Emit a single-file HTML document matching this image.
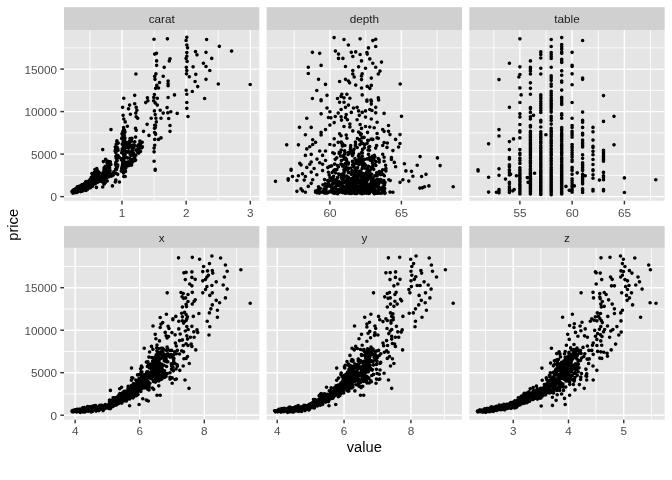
<!DOCTYPE html>
<html><head><meta charset="utf-8"><title>plot</title>
<style>html,body{margin:0;padding:0;background:#fff;overflow:hidden}svg text{font-family:"Liberation Sans",sans-serif}svg{will-change:transform}</style>
</head><body>
<svg width="672" height="480" viewBox="0 0 672 480" style="display:block">
<rect width="672" height="480" fill="#fff"/>
<defs>
<clipPath id="c00"><rect x="64.00" y="30.0" width="195.33" height="170.75"/></clipPath>
<clipPath id="c01"><rect x="266.66" y="30.0" width="195.33" height="170.75"/></clipPath>
<clipPath id="c02"><rect x="469.33" y="30.0" width="195.33" height="170.75"/></clipPath>
<clipPath id="c10"><rect x="64.00" y="247.9" width="195.33" height="171.75"/></clipPath>
<clipPath id="c11"><rect x="266.66" y="247.9" width="195.33" height="171.75"/></clipPath>
<clipPath id="c12"><rect x="469.33" y="247.9" width="195.33" height="171.75"/></clipPath>
</defs>
<rect x="64.00" y="7.2" width="195.33" height="22.80" fill="#D0D0D0"/>
<rect x="64.00" y="30.0" width="195.33" height="170.75" fill="#E5E5E5"/>
<text x="161.67" y="23.30" font-size="11.73" fill="#1A1A1A" text-anchor="middle">carat</text>
<g><line x1="64.00" x2="259.33" y1="175.35" y2="175.35" stroke="#FFFFFF" stroke-width="0.85"/><line x1="64.00" x2="259.33" y1="132.85" y2="132.85" stroke="#FFFFFF" stroke-width="0.85"/><line x1="64.00" x2="259.33" y1="90.35" y2="90.35" stroke="#FFFFFF" stroke-width="0.85"/><line x1="64.00" x2="259.33" y1="47.85" y2="47.85" stroke="#FFFFFF" stroke-width="0.85"/><line x1="89.92" x2="89.92" y1="30.0" y2="200.75" stroke="#FFFFFF" stroke-width="0.85"/><line x1="154.07" x2="154.07" y1="30.0" y2="200.75" stroke="#FFFFFF" stroke-width="0.85"/><line x1="218.23" x2="218.23" y1="30.0" y2="200.75" stroke="#FFFFFF" stroke-width="0.85"/><line x1="64.00" x2="259.33" y1="196.60" y2="196.60" stroke="#FFFFFF" stroke-width="1.42"/><line x1="64.00" x2="259.33" y1="154.10" y2="154.10" stroke="#FFFFFF" stroke-width="1.42"/><line x1="64.00" x2="259.33" y1="111.60" y2="111.60" stroke="#FFFFFF" stroke-width="1.42"/><line x1="64.00" x2="259.33" y1="69.10" y2="69.10" stroke="#FFFFFF" stroke-width="1.42"/><line x1="122.00" x2="122.00" y1="30.0" y2="200.75" stroke="#FFFFFF" stroke-width="1.42"/><line x1="186.15" x2="186.15" y1="30.0" y2="200.75" stroke="#FFFFFF" stroke-width="1.42"/><line x1="250.30" x2="250.30" y1="30.0" y2="200.75" stroke="#FFFFFF" stroke-width="1.42"/></g>
<line x1="122.00" x2="122.00" y1="200.75" y2="204.42" stroke="#333333" stroke-width="1.42"/>
<text x="122.00" y="216.5" font-size="11.73" fill="#4D4D4D" text-anchor="middle">1</text>
<line x1="186.15" x2="186.15" y1="200.75" y2="204.42" stroke="#333333" stroke-width="1.42"/>
<text x="186.15" y="216.5" font-size="11.73" fill="#4D4D4D" text-anchor="middle">2</text>
<line x1="250.30" x2="250.30" y1="200.75" y2="204.42" stroke="#333333" stroke-width="1.42"/>
<text x="250.30" y="216.5" font-size="11.73" fill="#4D4D4D" text-anchor="middle">3</text>
<path clip-path="url(#c00)" d="M154.0 39.2h0M154.7 54.1h0M156.5 53.3h0M156.6 60.9h0M156.6 65.3h0M135.9 74.0h0M155.9 73.8h0M154.7 76.4h0M155.0 79.3h0M159.5 82.5h0M156.8 85.4h0M155.6 88.3h0M158.5 88.0h0M134.7 95.3h0M123.8 98.2h0M147.4 97.8h0M154.4 94.5h0M153.8 97.4h0M157.3 98.2h0M167.4 38.8h0M186.8 37.3h0M186.1 40.5h0M186.8 45.0h0M187.5 47.8h0M206.6 39.5h0M219.3 46.3h0M231.6 51.1h0M195.5 51.6h0M197.0 54.8h0M206.0 52.3h0M186.8 52.6h0M186.8 56.2h0M186.1 58.4h0M187.1 61.4h0M211.7 58.4h0M170.0 58.7h0M169.3 60.9h0M203.4 63.2h0M206.0 66.5h0M164.2 67.3h0M186.3 67.3h0M193.1 66.8h0M209.8 70.5h0M186.8 70.5h0M186.5 73.8h0M189.3 76.7h0M195.8 74.3h0M163.2 76.2h0M206.0 79.3h0M168.1 81.0h0M168.1 83.7h0M168.1 85.7h0M195.1 81.5h0M218.3 84.0h0M250.2 84.5h0M197.7 86.6h0M186.2 90.2h0M192.3 91.5h0M186.8 94.2h0M174.5 94.9h0M168.1 97.5h0M204.6 98.5h0M122.6 107.3h0M129.6 105.1h0M128.5 108.8h0M134.7 103.7h0M136.2 107.3h0M136.9 110.2h0M135.8 113.1h0M130.4 114.2h0M123.1 115.3h0M123.8 119.0h0M125.2 121.9h0M127.4 126.2h0M136.2 116.8h0M137.7 118.2h0M135.5 128.4h0M136.2 130.3h0M143.5 131.3h0M147.1 124.3h0M151.2 118.2h0M149.0 135.4h0M111.0 129.6h0M102.7 149.6h0M145.7 102.6h0M147.9 100.7h0M153.7 100.7h0M155.2 102.9h0M157.3 105.1h0M154.4 110.9h0M155.2 114.6h0M155.9 118.2h0M156.3 121.9h0M155.6 125.5h0M155.2 127.7h0M154.7 132.8h0M155.6 134.3h0M154.7 139.4h0M158.5 139.4h0M161.0 137.9h0M154.7 145.2h0M154.1 148.1h0M154.1 151.8h0M154.1 161.2h0M155.2 169.3h0M160.2 110.2h0M161.0 118.2h0M96.8 168.5h0M94.9 169.6h0M186.8 102.5h0M186.8 108.3h0M188.0 116.5h0M167.1 107.6h0M163.2 113.1h0M167.8 112.8h0M170.8 111.7h0M177.2 113.4h0M168.7 118.5h0M170.0 125.5h0M170.0 131.3h0M102.7 149.5h0M96.4 187.4h0M102.7 187.0h0M112.4 185.9h0M115.8 180.1h0M115.3 182.0h0M119.4 182.0h0M123.8 176.5h0M125.2 176.5h0M117.7 174.3h0M154.1 161.2h0M155.2 170.2h0M105.6 159.2h0M103.4 161.6h0M79.2 189.2h0M83.2 189.0h0M81.0 188.3h0M82.1 187.5h0M81.1 187.6h0M88.8 184.5h0M83.0 189.1h0M88.3 187.0h0M84.5 184.2h0M76.4 190.6h0M74.1 190.4h0M90.8 186.8h0M87.3 185.7h0M87.6 184.6h0M75.6 191.2h0M81.4 187.5h0M75.3 191.3h0M81.2 187.5h0M85.2 186.0h0M83.7 188.7h0M80.2 189.7h0M86.7 183.3h0M82.4 190.9h0M85.2 186.0h0M86.3 186.7h0M76.1 190.7h0M76.3 190.9h0M82.6 186.8h0M74.4 192.2h0M85.8 189.2h0M75.8 191.2h0M75.6 192.4h0M87.7 185.3h0M83.2 187.2h0M87.8 182.9h0M75.3 192.1h0M80.6 191.6h0M87.2 183.3h0M83.7 187.2h0M75.8 189.5h0M76.1 190.2h0M74.3 191.6h0M74.8 190.8h0M85.1 183.7h0M79.0 186.4h0M76.6 190.4h0M75.9 189.5h0M87.4 188.8h0M74.0 190.7h0M88.2 187.5h0M85.2 185.9h0M87.6 185.3h0M84.7 183.4h0M83.3 184.7h0M77.6 192.0h0M83.9 186.4h0M79.6 186.2h0M75.5 190.8h0M74.1 191.1h0M84.0 185.4h0M81.8 188.2h0M83.8 187.2h0M84.4 186.9h0M80.2 186.5h0M73.2 191.9h0M75.0 190.7h0M81.5 188.3h0M75.3 191.1h0M78.8 189.9h0M89.2 185.5h0M75.4 190.7h0M77.6 191.6h0M78.9 189.4h0M79.4 189.1h0M82.6 191.0h0M76.8 188.3h0M87.5 188.2h0M85.4 184.7h0M74.3 191.7h0M74.5 190.5h0M78.9 188.6h0M82.5 188.7h0M82.4 188.5h0M80.0 186.0h0M86.0 190.5h0M81.3 186.7h0M86.3 185.9h0M83.1 186.6h0M88.5 187.7h0M82.6 187.5h0M84.3 189.9h0M72.1 192.0h0M77.6 188.9h0M76.0 189.7h0M75.3 189.8h0M87.3 188.6h0M75.3 190.2h0M74.1 192.2h0M75.0 191.8h0M86.4 181.6h0M79.3 187.5h0M86.3 186.0h0M75.3 192.2h0M75.0 189.4h0M79.2 189.5h0M87.5 183.2h0M73.1 190.2h0M86.8 188.7h0M74.1 189.6h0M79.7 188.4h0M78.7 187.0h0M75.3 191.3h0M83.6 188.2h0M88.2 183.2h0M84.2 185.1h0M76.0 191.1h0M83.1 186.3h0M76.5 190.8h0M81.9 186.6h0M80.2 190.9h0M82.6 186.3h0M73.6 191.5h0M79.5 188.2h0M75.1 190.3h0M78.4 191.2h0M80.8 188.1h0M80.1 189.7h0M83.1 187.2h0M83.6 187.7h0M78.9 190.3h0M85.4 183.3h0M83.1 188.1h0M78.3 188.0h0M73.4 192.9h0M77.5 186.8h0M73.6 191.2h0M79.3 188.4h0M87.5 187.5h0M79.8 190.7h0M85.7 181.9h0M74.1 190.9h0M75.8 191.5h0M81.6 185.1h0M84.5 183.9h0M76.7 188.6h0M74.2 192.4h0M84.2 185.4h0M87.4 189.5h0M87.0 185.0h0M72.0 191.5h0M83.8 188.4h0M81.2 188.7h0M84.7 185.1h0M87.4 185.6h0M73.8 191.2h0M83.5 185.2h0M76.0 192.1h0M89.1 184.6h0M83.3 187.5h0M78.7 189.4h0M81.1 187.8h0M81.0 188.4h0M72.5 191.3h0M79.8 187.9h0M87.4 183.8h0M90.0 185.7h0M85.0 188.5h0M74.1 190.9h0M88.5 186.9h0M81.6 191.2h0M74.7 192.1h0M87.5 185.7h0M78.6 187.5h0M75.1 190.8h0M75.2 191.4h0M86.3 186.6h0M73.3 192.6h0M88.3 185.8h0M84.4 186.1h0M81.2 187.5h0M77.8 189.9h0M86.4 187.7h0M87.2 183.0h0M84.8 186.2h0M81.3 188.8h0M78.1 189.0h0M82.0 184.7h0M81.1 188.5h0M86.5 189.1h0M79.1 189.2h0M75.3 190.3h0M78.7 186.6h0M86.8 187.0h0M83.8 187.7h0M77.5 189.9h0M75.1 192.4h0M79.2 189.8h0M77.3 186.8h0M81.3 191.2h0M80.3 190.5h0M88.3 187.8h0M74.8 189.7h0M85.4 184.0h0M86.5 183.7h0M84.5 184.1h0M74.0 189.5h0M86.7 186.1h0M75.2 189.1h0M84.7 188.0h0M86.5 188.0h0M77.2 189.0h0M82.1 189.5h0M77.8 191.1h0M76.0 191.4h0M74.3 191.1h0M86.7 183.1h0M80.5 189.1h0M84.0 186.5h0M88.3 185.3h0M87.3 186.4h0M74.4 191.0h0M86.8 187.4h0M81.4 187.6h0M78.2 190.8h0M85.3 186.0h0M83.8 184.5h0M76.4 189.2h0M83.5 186.2h0M83.4 186.4h0M88.4 186.1h0M74.6 192.1h0M82.2 190.8h0M77.7 190.6h0M72.9 190.6h0M80.8 188.4h0M83.2 186.2h0M76.4 191.2h0M72.3 191.2h0M85.7 182.5h0M75.1 191.7h0M87.6 185.9h0M82.7 190.9h0M73.6 190.5h0M86.6 182.7h0M72.2 192.1h0M84.1 186.4h0M77.0 192.4h0M87.6 188.5h0M85.9 181.9h0M73.8 192.2h0M76.9 190.3h0M83.4 189.2h0M75.0 190.9h0M76.2 189.7h0M73.5 191.5h0M79.4 189.9h0M85.9 186.9h0M87.5 186.0h0M82.9 187.0h0M76.6 192.3h0M79.6 186.6h0M76.3 190.5h0M83.8 187.8h0M77.2 190.3h0M73.8 190.3h0M88.5 184.2h0M88.2 184.6h0M89.1 188.0h0M80.5 186.8h0M81.7 190.0h0M85.6 183.3h0M81.1 188.7h0M76.8 189.6h0M88.2 183.7h0M83.7 186.9h0M87.1 186.8h0M79.6 190.9h0M75.7 189.4h0M82.2 184.6h0M87.8 186.6h0M83.5 188.5h0M84.4 186.7h0M87.0 186.8h0M85.7 188.2h0M82.9 188.8h0M90.0 186.1h0M86.2 185.6h0M79.2 188.3h0M89.1 184.1h0M75.8 188.5h0M73.0 193.2h0M79.7 190.8h0M85.8 188.3h0M81.3 185.8h0M88.7 184.9h0M81.4 188.9h0M75.6 190.9h0M83.9 187.2h0M79.4 188.6h0M82.6 187.6h0M97.7 174.1h0M92.3 181.5h0M88.2 183.4h0M86.3 184.6h0M97.3 179.8h0M99.2 173.2h0M88.7 182.9h0M92.6 183.6h0M88.5 186.4h0M86.5 183.7h0M90.3 182.6h0M96.4 181.8h0M96.6 174.7h0M97.2 177.0h0M90.5 181.5h0M86.7 185.1h0M95.1 177.8h0M93.4 181.8h0M94.6 173.6h0M92.8 179.8h0M96.9 171.5h0M95.1 173.4h0M89.3 180.2h0M92.3 182.2h0M95.8 175.2h0M95.0 173.2h0M92.6 184.0h0M94.4 180.2h0M87.0 183.9h0M93.9 180.9h0M91.3 183.0h0M95.6 170.0h0M93.6 178.6h0M88.6 186.1h0M95.1 172.7h0M94.1 174.2h0M98.7 176.9h0M90.2 179.3h0M97.5 176.8h0M94.0 179.0h0M91.1 180.8h0M93.1 176.7h0M97.0 173.4h0M94.4 172.2h0M92.9 179.9h0M93.6 173.4h0M97.3 181.3h0M99.2 172.7h0M93.9 181.7h0M96.6 175.0h0M91.0 181.7h0M91.8 179.4h0M93.3 175.4h0M88.9 181.7h0M91.2 179.0h0M95.8 181.0h0M90.6 184.2h0M86.9 184.3h0M94.3 178.1h0M97.0 179.5h0M91.2 182.9h0M86.0 184.1h0M92.1 177.5h0M91.7 185.6h0M96.7 174.7h0M97.9 173.3h0M93.6 176.7h0M90.4 181.6h0M88.3 183.3h0M95.5 171.0h0M91.0 183.5h0M89.3 183.6h0M94.5 176.8h0M98.8 176.7h0M97.2 176.1h0M90.3 184.3h0M86.7 181.9h0M95.7 176.8h0M95.9 173.3h0M89.9 184.3h0M87.7 182.6h0M96.3 176.5h0M93.1 175.2h0M87.8 183.5h0M91.0 184.5h0M91.7 179.9h0M94.9 180.2h0M90.6 187.6h0M98.9 172.1h0M89.7 182.4h0M94.0 175.6h0M91.9 173.6h0M96.8 171.3h0M92.5 186.2h0M97.6 177.1h0M95.4 181.5h0M91.4 179.1h0M92.0 179.7h0M91.0 182.4h0M97.2 175.6h0M89.4 184.9h0M96.2 174.8h0M91.3 177.3h0M97.4 170.5h0M97.2 175.3h0M93.2 175.1h0M94.3 175.3h0M87.9 184.7h0M90.8 180.1h0M86.4 183.6h0M90.4 180.1h0M88.4 184.8h0M89.9 183.3h0M89.6 184.1h0M91.9 180.2h0M90.5 184.4h0M91.6 183.7h0M92.2 179.4h0M94.5 183.9h0M89.4 184.3h0M97.0 172.8h0M93.5 179.0h0M95.9 175.2h0M96.2 178.4h0M93.3 175.1h0M88.0 185.4h0M96.8 178.8h0M87.3 184.5h0M88.9 182.2h0M98.1 175.2h0M98.3 173.7h0M93.9 177.8h0M97.3 176.5h0M95.8 183.3h0M99.9 173.2h0M97.1 176.2h0M94.4 174.7h0M95.9 176.4h0M95.1 182.1h0M97.0 174.1h0M108.6 167.6h0M109.6 170.8h0M105.7 175.7h0M102.6 180.6h0M107.2 169.4h0M102.9 180.9h0M108.5 174.5h0M109.3 166.2h0M104.3 183.9h0M104.5 172.1h0M104.2 175.9h0M108.5 172.8h0M104.2 181.2h0M102.9 182.0h0M104.2 180.8h0M107.7 175.0h0M104.0 176.5h0M109.3 165.7h0M103.5 181.0h0M109.5 162.1h0M107.4 161.2h0M108.4 168.5h0M108.3 170.8h0M104.6 176.0h0M103.7 172.6h0M109.4 176.6h0M108.9 169.0h0M106.0 172.3h0M106.8 177.6h0M105.3 179.2h0M103.6 178.7h0M103.1 179.4h0M104.0 181.2h0M106.7 171.8h0M107.1 171.2h0M103.3 178.0h0M108.6 164.1h0M106.3 166.8h0M105.0 181.0h0M104.8 180.3h0M102.3 178.7h0M102.2 177.7h0M104.1 167.9h0M105.5 179.8h0M107.9 168.3h0M103.4 183.3h0M108.1 170.8h0M107.4 177.3h0M103.2 180.1h0M109.1 166.2h0M109.8 162.2h0M103.2 182.2h0M107.0 177.7h0M105.0 182.5h0M105.3 182.6h0M106.0 176.3h0M105.2 174.9h0M109.6 167.8h0M110.3 164.1h0M105.5 168.5h0M109.2 163.9h0M104.0 169.7h0M103.3 179.1h0M106.6 178.2h0M106.7 172.4h0M107.4 173.9h0M104.8 172.2h0M103.8 175.9h0M103.8 183.0h0M108.5 168.5h0M110.1 170.8h0M109.7 170.3h0M109.5 168.6h0M104.2 182.4h0M107.2 181.0h0M107.4 167.5h0M107.7 161.5h0M107.3 168.2h0M104.9 180.6h0M101.4 181.2h0M103.3 172.0h0M107.4 171.3h0M107.8 176.0h0M105.3 166.3h0M109.1 172.0h0M108.6 175.1h0M108.2 167.1h0M103.2 178.9h0M103.2 181.6h0M103.1 176.1h0M104.3 180.3h0M109.2 171.7h0M106.9 162.6h0M108.6 162.5h0M108.1 161.4h0M107.6 175.9h0M107.2 176.1h0M103.5 177.1h0M107.6 165.2h0M109.2 162.5h0M104.7 172.2h0M102.8 174.2h0M109.1 162.0h0M110.8 164.4h0M104.0 174.6h0M106.2 168.4h0M109.2 163.1h0M105.3 166.9h0M108.1 169.1h0M108.8 162.0h0M104.1 176.5h0M107.7 169.1h0M109.2 163.0h0M106.7 168.8h0M106.8 176.1h0M106.2 172.7h0M106.9 167.8h0M106.2 172.3h0M103.0 177.4h0M110.3 161.9h0M109.3 165.8h0M108.3 166.8h0M106.1 179.4h0M105.1 177.5h0M106.5 168.5h0M103.5 181.8h0M108.3 165.4h0M103.8 179.4h0M108.3 172.3h0M105.9 177.2h0M99.3 181.1h0M100.7 179.7h0M101.8 179.2h0M101.2 181.0h0M102.1 177.0h0M98.3 179.2h0M101.9 178.4h0M102.1 178.8h0M100.0 178.6h0M100.3 181.2h0M103.3 180.6h0M100.3 177.0h0M100.5 180.4h0M100.0 180.6h0M102.5 178.3h0M100.5 181.2h0M101.3 179.8h0M101.1 178.4h0M102.3 181.2h0M101.0 176.9h0M100.6 178.8h0M99.3 181.0h0M100.3 179.2h0M101.8 178.2h0M97.8 182.2h0M113.9 171.7h0M111.8 175.7h0M111.9 174.2h0M112.3 175.7h0M113.3 174.9h0M112.1 174.6h0M111.5 175.5h0M111.0 174.9h0M111.4 174.8h0M111.5 176.1h0M113.9 172.5h0M110.0 175.8h0M111.0 175.0h0M111.2 173.8h0M116.9 149.0h0M115.9 152.7h0M116.9 141.6h0M115.5 149.9h0M117.3 156.5h0M116.1 158.0h0M115.9 156.2h0M115.6 164.4h0M116.6 166.4h0M116.7 157.0h0M117.5 157.3h0M117.5 166.6h0M116.2 144.3h0M117.1 147.2h0M116.6 167.7h0M115.3 147.1h0M117.6 158.0h0M115.1 151.1h0M118.0 157.1h0M119.2 157.3h0M116.3 166.3h0M117.7 148.7h0M117.3 156.9h0M117.2 148.5h0M116.6 150.3h0M117.0 148.2h0M116.0 173.3h0M115.9 163.3h0M115.9 162.2h0M116.9 160.3h0M117.4 164.8h0M115.6 169.2h0M118.0 155.6h0M116.4 164.9h0M117.3 143.3h0M117.1 160.7h0M116.9 140.9h0M115.6 164.8h0M117.7 165.1h0M116.6 155.6h0M117.0 167.7h0M118.1 150.2h0M116.4 169.4h0M116.6 147.7h0M118.2 143.1h0M122.4 158.5h0M125.3 151.3h0M123.7 137.9h0M124.2 133.6h0M123.0 138.1h0M124.6 140.8h0M125.9 167.7h0M123.9 161.8h0M122.5 164.9h0M124.7 143.5h0M122.7 144.8h0M122.2 144.0h0M125.7 157.6h0M124.0 156.8h0M121.4 159.8h0M124.9 152.0h0M124.2 168.9h0M124.0 147.4h0M125.7 152.0h0M123.5 159.4h0M123.5 165.8h0M123.2 141.8h0M122.9 131.2h0M123.1 150.5h0M124.4 130.1h0M123.2 149.4h0M122.0 133.8h0M123.7 157.2h0M122.8 139.0h0M123.5 151.5h0M123.3 167.9h0M123.6 137.7h0M121.7 152.7h0M125.3 168.7h0M123.6 166.9h0M122.3 151.4h0M122.4 134.6h0M123.7 168.0h0M124.6 144.3h0M122.1 166.9h0M124.0 157.0h0M124.0 153.4h0M122.6 170.7h0M123.7 146.7h0M125.7 145.8h0M125.3 146.0h0M124.9 138.0h0M123.2 167.7h0M124.8 150.3h0M122.3 148.8h0M122.9 167.8h0M123.3 151.0h0M124.0 132.3h0M124.5 164.1h0M121.3 171.1h0M124.8 168.9h0M125.1 165.7h0M125.0 132.0h0M123.8 153.1h0M123.4 153.0h0M124.1 147.0h0M124.2 152.5h0M124.6 138.9h0M124.0 140.2h0M122.6 161.4h0M122.1 150.6h0M123.6 127.5h0M124.4 133.1h0M122.0 137.9h0M125.0 143.3h0M125.2 156.4h0M124.0 133.2h0M124.5 168.7h0M122.5 149.9h0M122.8 158.6h0M123.7 133.8h0M125.4 162.0h0M125.0 167.6h0M125.6 164.1h0M125.8 142.4h0M123.5 173.1h0M124.7 156.1h0M124.7 137.7h0M126.1 151.2h0M123.3 163.3h0M122.3 169.9h0M123.5 154.7h0M123.4 139.6h0M125.5 171.4h0M123.1 153.7h0M126.1 147.4h0M123.6 168.1h0M121.7 168.4h0M123.4 154.4h0M124.2 170.9h0M122.8 134.7h0M125.7 145.3h0M124.0 151.0h0M123.4 141.4h0M124.5 163.1h0M123.0 145.2h0M123.7 129.3h0M125.1 154.2h0M125.2 146.4h0M124.2 135.4h0M122.5 167.7h0M122.7 163.4h0M121.7 138.6h0M123.0 153.6h0M123.7 161.7h0M133.3 155.2h0M132.8 151.9h0M134.8 141.8h0M130.9 155.4h0M127.6 157.9h0M131.0 159.8h0M128.3 161.8h0M128.6 163.2h0M132.7 150.3h0M128.9 164.4h0M132.7 154.9h0M132.1 150.3h0M132.9 145.1h0M128.2 165.6h0M132.5 153.2h0M129.2 165.4h0M127.8 164.1h0M132.6 147.4h0M132.2 147.7h0M129.6 161.9h0M127.6 165.3h0M129.7 158.3h0M135.6 137.1h0M128.1 165.3h0M130.2 154.2h0M132.1 155.1h0M126.7 165.3h0M133.8 147.6h0M127.6 165.3h0M133.7 153.3h0M127.0 162.8h0M130.6 151.7h0M134.5 145.6h0M126.5 163.7h0M134.7 141.9h0M127.0 165.9h0M135.8 155.2h0M138.2 148.8h0M142.2 142.2h0M141.8 147.8h0M137.7 146.2h0M138.1 145.4h0M139.9 141.0h0M134.7 157.6h0M139.3 145.5h0M140.8 145.6h0M138.8 149.5h0M133.1 159.1h0M134.5 158.4h0M131.6 165.1h0M133.6 159.0h0M133.1 160.1h0M138.8 153.1h0M139.4 148.0h0M135.6 160.0h0M137.8 152.6h0M140.3 146.0h0M135.2 160.4h0M130.5 164.9h0M130.2 163.0h0M138.2 150.4h0M139.2 150.2h0M136.3 150.3h0M133.3 160.8h0M140.5 151.5h0M139.5 151.2h0M139.1 144.0h0M131.4 164.4h0M142.4 146.7h0M136.2 150.1h0M132.6 162.0h0M140.2 144.8h0M129.3 145.1h0M131.4 141.3h0M128.7 148.1h0M130.1 138.6h0M129.4 146.0h0M127.7 152.1h0M130.1 140.1h0M129.2 142.5h0M129.5 145.9h0M127.4 145.2h0M130.8 145.5h0M131.9 138.4h0M128.9 144.1h0M129.2 141.6h0M129.0 145.6h0M129.3 143.4h0M129.3 146.6h0M128.0 151.4h0M154.6 132.5h0M155.4 133.4h0M154.7 125.2h0M154.5 128.3h0" stroke="#000" stroke-width="3.65" stroke-linecap="round" fill="none"/>
<rect x="266.66" y="7.2" width="195.33" height="22.80" fill="#D0D0D0"/>
<rect x="266.66" y="30.0" width="195.33" height="170.75" fill="#E5E5E5"/>
<text x="364.33" y="23.30" font-size="11.73" fill="#1A1A1A" text-anchor="middle">depth</text>
<g><line x1="266.66" x2="461.99" y1="175.35" y2="175.35" stroke="#FFFFFF" stroke-width="0.85"/><line x1="266.66" x2="461.99" y1="132.85" y2="132.85" stroke="#FFFFFF" stroke-width="0.85"/><line x1="266.66" x2="461.99" y1="90.35" y2="90.35" stroke="#FFFFFF" stroke-width="0.85"/><line x1="266.66" x2="461.99" y1="47.85" y2="47.85" stroke="#FFFFFF" stroke-width="0.85"/><line x1="294.15" x2="294.15" y1="30.0" y2="200.75" stroke="#FFFFFF" stroke-width="0.85"/><line x1="365.65" x2="365.65" y1="30.0" y2="200.75" stroke="#FFFFFF" stroke-width="0.85"/><line x1="437.15" x2="437.15" y1="30.0" y2="200.75" stroke="#FFFFFF" stroke-width="0.85"/><line x1="266.66" x2="461.99" y1="196.60" y2="196.60" stroke="#FFFFFF" stroke-width="1.42"/><line x1="266.66" x2="461.99" y1="154.10" y2="154.10" stroke="#FFFFFF" stroke-width="1.42"/><line x1="266.66" x2="461.99" y1="111.60" y2="111.60" stroke="#FFFFFF" stroke-width="1.42"/><line x1="266.66" x2="461.99" y1="69.10" y2="69.10" stroke="#FFFFFF" stroke-width="1.42"/><line x1="329.90" x2="329.90" y1="30.0" y2="200.75" stroke="#FFFFFF" stroke-width="1.42"/><line x1="401.40" x2="401.40" y1="30.0" y2="200.75" stroke="#FFFFFF" stroke-width="1.42"/></g>
<line x1="329.90" x2="329.90" y1="200.75" y2="204.42" stroke="#333333" stroke-width="1.42"/>
<text x="329.90" y="216.5" font-size="11.73" fill="#4D4D4D" text-anchor="middle">60</text>
<line x1="401.40" x2="401.40" y1="200.75" y2="204.42" stroke="#333333" stroke-width="1.42"/>
<text x="401.40" y="216.5" font-size="11.73" fill="#4D4D4D" text-anchor="middle">65</text>
<path clip-path="url(#c01)" d="M334.1 37.6h0M344.0 39.5h0M360.1 38.8h0M348.4 45.0h0M312.4 52.3h0M319.7 53.3h0M335.4 51.1h0M338.5 54.1h0M351.3 52.3h0M355.7 51.9h0M360.1 54.5h0M352.8 56.5h0M338.5 58.4h0M342.9 58.4h0M361.5 60.9h0M308.3 67.2h0M321.1 65.4h0M345.5 66.5h0M358.6 66.8h0M352.8 70.5h0M308.3 73.5h0M352.8 74.0h0M354.2 77.0h0M362.2 73.8h0M361.5 75.9h0M318.5 79.3h0M345.5 79.3h0M348.4 81.0h0M349.6 82.8h0M361.5 79.6h0M339.6 81.5h0M325.5 84.4h0M355.7 85.1h0M361.5 88.0h0M316.8 90.5h0M327.0 95.3h0M362.2 94.9h0M312.4 98.5h0M321.1 99.7h0M341.8 94.2h0M346.9 94.2h0M341.1 96.4h0M337.5 98.5h0M344.0 97.8h0M349.9 98.2h0M375.7 39.2h0M372.8 40.6h0M375.7 46.5h0M368.4 47.9h0M366.9 52.6h0M367.2 54.1h0M369.8 58.9h0M381.5 62.1h0M372.8 63.2h0M375.7 67.2h0M365.5 68.2h0M380.0 71.1h0M378.3 74.0h0M371.3 78.1h0M400.2 84.0h0M371.3 85.4h0M367.2 86.4h0M369.8 88.3h0M378.3 97.8h0M366.9 100.0h0M371.0 100.0h0M321.1 100.7h0M339.6 102.2h0M344.0 102.2h0M348.4 105.1h0M345.5 107.3h0M327.0 108.0h0M341.1 109.5h0M329.9 111.7h0M321.1 113.8h0M338.2 113.1h0M353.5 108.0h0M357.1 107.3h0M358.6 110.9h0M359.3 115.3h0M362.2 112.4h0M351.3 112.4h0M346.2 114.6h0M345.5 117.5h0M341.1 116.8h0M335.3 116.5h0M328.4 117.5h0M330.9 117.8h0M306.8 118.2h0M347.4 119.7h0M341.5 120.1h0M357.1 119.7h0M334.2 122.6h0M349.9 124.1h0M344.0 126.5h0M329.9 125.1h0M349.9 127.0h0M360.1 124.5h0M361.5 128.4h0M299.5 127.3h0M311.2 127.4h0M325.5 129.6h0M321.1 132.4h0M321.1 135.0h0M352.8 130.9h0M305.4 134.7h0M339.6 133.8h0M341.1 135.7h0M346.2 135.0h0M346.9 138.2h0M358.6 132.1h0M360.8 135.0h0M334.2 138.7h0M312.7 139.7h0M315.6 142.3h0M286.7 144.8h0M298.4 144.8h0M312.7 144.5h0M309.8 146.7h0M306.8 148.9h0M329.9 144.5h0M334.2 145.2h0M338.2 142.3h0M342.6 143.8h0M319.7 151.0h0M325.5 151.0h0M305.4 155.4h0M311.2 154.4h0M322.6 155.4h0M317.0 159.1h0M325.5 160.5h0M319.7 162.7h0M322.6 164.2h0M299.8 163.4h0M301.0 164.9h0M311.2 162.0h0M309.8 164.2h0M306.8 167.4h0M314.1 168.5h0M291.1 169.3h0M329.9 166.4h0M366.9 101.2h0M371.3 101.2h0M371.3 104.1h0M378.6 100.0h0M375.7 107.3h0M369.8 109.5h0M372.0 110.5h0M365.5 110.9h0M375.7 112.8h0M384.1 113.4h0M401.5 116.3h0M365.5 117.1h0M371.3 119.0h0M377.1 122.2h0M388.5 125.5h0M365.5 126.5h0M369.8 127.0h0M374.2 127.7h0M382.7 129.5h0M384.1 131.3h0M388.5 131.3h0M390.0 134.6h0M400.0 134.6h0M377.1 133.5h0M377.1 137.9h0M378.3 138.2h0M372.8 139.4h0M395.6 139.4h0M384.1 142.6h0M387.3 143.0h0M400.0 143.5h0M382.7 145.5h0M387.0 147.4h0M398.6 147.0h0M392.9 150.6h0M375.7 148.1h0M420.1 156.6h0M437.4 157.9h0M391.4 157.6h0M391.4 159.5h0M394.3 162.4h0M404.4 163.7h0M417.2 165.2h0M440.1 165.6h0M395.6 166.7h0M382.7 154.2h0M384.1 157.2h0M378.3 158.6h0M384.1 161.2h0M385.6 165.3h0M385.9 168.5h0M291.1 170.2h0M311.2 172.1h0M322.6 170.6h0M316.8 174.7h0M302.5 173.8h0M298.4 175.7h0M292.5 176.5h0M305.4 176.5h0M288.2 178.7h0M288.2 180.1h0M275.5 181.3h0M296.9 180.5h0M304.2 180.1h0M312.7 179.7h0M311.2 183.3h0M308.3 186.4h0M301.0 188.9h0M302.5 190.8h0M296.9 191.3h0M305.4 192.2h0M315.6 192.2h0M318.5 186.7h0M319.2 189.6h0M385.6 169.2h0M385.9 170.9h0M405.9 170.9h0M411.5 171.3h0M383.0 174.3h0M384.4 175.7h0M426.0 174.3h0M412.9 176.2h0M421.6 176.5h0M388.8 179.7h0M390.2 180.5h0M402.9 179.7h0M400.0 182.3h0M408.8 181.1h0M428.9 185.9h0M424.5 186.7h0M422.3 187.8h0M419.9 188.1h0M453.2 186.7h0M390.0 192.1h0M392.9 192.2h0M383.0 186.7h0M384.4 189.6h0M384.4 191.8h0M334.7 169.7h0M376.9 185.1h0M332.8 179.0h0M367.1 143.3h0M334.9 191.1h0M371.4 167.2h0M356.1 182.1h0M343.1 190.2h0M359.8 175.1h0M351.4 178.9h0M363.2 160.4h0M378.8 173.7h0M331.0 180.7h0M330.0 177.8h0M343.2 173.6h0M374.0 191.3h0M352.5 161.4h0M356.2 169.9h0M360.0 189.4h0M368.7 187.9h0M371.0 177.8h0M376.1 186.0h0M377.0 179.9h0M360.7 187.7h0M372.6 167.3h0M368.5 166.2h0M363.4 173.7h0M361.5 186.0h0M338.7 183.7h0M376.6 145.6h0M372.8 160.2h0M361.5 157.5h0M362.6 149.4h0M374.6 190.2h0M361.4 158.2h0M360.4 188.5h0M355.9 169.8h0M379.2 159.8h0M343.6 156.7h0M379.1 182.4h0M324.0 188.7h0M362.5 165.6h0M358.0 161.8h0M355.0 193.2h0M342.2 186.3h0M362.2 174.5h0M371.6 180.7h0M353.9 187.3h0M369.4 190.6h0M354.8 163.5h0M356.7 183.4h0M361.3 134.0h0M373.7 190.0h0M359.0 174.4h0M355.5 144.3h0M369.0 173.2h0M341.2 150.0h0M370.2 160.2h0M341.9 191.0h0M349.0 182.2h0M361.5 177.1h0M382.9 188.1h0M361.8 178.7h0M343.7 188.4h0M356.0 188.4h0M365.5 177.9h0M328.2 184.6h0M383.1 189.1h0M348.3 192.9h0M373.2 184.6h0M341.8 191.5h0M374.2 189.2h0M344.8 186.9h0M335.4 186.8h0M355.4 189.2h0M355.6 191.2h0M344.4 176.2h0M350.9 190.1h0M325.8 192.0h0M357.9 174.9h0M361.4 163.9h0M381.1 188.0h0M364.4 147.8h0M372.5 191.5h0M339.2 153.4h0M353.8 166.6h0M375.4 191.1h0M372.6 181.8h0M368.1 150.0h0M355.9 160.6h0M335.2 159.3h0M341.5 177.2h0M362.3 175.7h0M361.9 181.2h0M351.6 190.9h0M368.2 176.6h0M353.9 176.7h0M364.7 186.4h0M361.7 173.0h0M343.8 187.7h0M339.0 189.8h0M374.9 192.0h0M364.8 144.3h0M359.2 175.3h0M328.4 172.2h0M364.5 159.4h0M332.0 180.7h0M358.7 189.3h0M368.8 193.5h0M372.3 156.4h0M328.6 192.3h0M340.4 152.2h0M382.6 190.8h0M377.9 183.6h0M350.5 185.5h0M351.8 193.3h0M339.0 190.8h0M325.3 183.8h0M368.9 187.2h0M375.8 165.4h0M327.1 185.3h0M353.4 177.5h0M360.5 183.0h0M361.6 185.8h0M364.9 168.1h0M327.7 180.6h0M373.6 191.1h0M378.9 183.6h0M365.6 180.1h0M362.1 137.7h0M343.1 188.8h0M371.5 189.8h0M351.0 152.2h0M381.0 193.1h0M380.7 181.7h0M346.6 182.4h0M336.1 182.0h0M354.4 180.3h0M380.5 181.5h0M337.6 184.3h0M355.5 183.1h0M338.9 181.8h0M355.4 142.0h0M372.1 157.8h0M374.4 193.7h0M341.6 175.4h0M367.5 132.4h0M366.9 181.6h0M358.8 181.2h0M362.7 161.0h0M351.5 187.9h0M341.8 143.4h0M374.3 155.2h0M358.0 161.3h0M338.0 181.1h0M344.1 159.2h0M347.0 179.7h0M342.9 188.9h0M373.5 190.0h0M366.6 185.7h0M356.0 193.3h0M371.6 184.9h0M365.8 183.1h0M357.5 167.8h0M367.8 188.7h0M360.4 185.0h0M334.3 153.6h0M370.6 176.4h0M340.8 191.2h0M374.9 156.9h0M359.1 190.5h0M353.2 185.9h0M366.1 173.8h0M381.4 171.8h0M333.5 179.9h0M365.3 166.2h0M363.6 173.9h0M378.2 182.9h0M359.6 188.5h0M335.6 172.8h0M334.7 164.1h0M364.7 185.2h0M328.1 167.3h0M347.6 169.9h0M369.6 146.6h0M367.5 192.0h0M375.2 189.9h0M336.8 157.8h0M363.0 187.2h0M384.6 188.4h0M364.1 193.2h0M379.3 189.7h0M361.5 192.8h0M332.8 152.7h0M373.7 169.3h0M355.3 177.3h0M341.3 142.0h0M348.2 185.1h0M384.5 185.0h0M336.8 185.2h0M339.5 190.7h0M361.9 193.7h0M334.7 189.9h0M357.2 147.5h0M369.9 173.8h0M351.9 171.2h0M336.5 183.4h0M382.1 182.0h0M360.8 183.4h0M331.8 189.1h0M369.5 150.2h0M368.8 147.0h0M352.9 181.4h0M376.7 183.2h0M332.7 181.4h0M347.6 163.0h0M344.3 189.8h0M357.1 174.7h0M358.2 171.7h0M357.9 182.8h0M338.4 166.8h0M372.0 179.9h0M354.4 190.1h0M350.5 182.5h0M343.1 187.6h0M359.8 171.3h0M348.4 179.4h0M331.6 165.8h0M343.8 173.6h0M340.8 185.1h0M362.1 190.7h0M356.6 187.3h0M363.7 191.5h0M348.4 162.9h0M348.3 190.5h0M335.4 187.6h0M358.3 186.5h0M364.5 176.2h0M355.4 146.0h0M351.7 182.8h0M350.9 179.5h0M332.5 184.3h0M342.8 155.8h0M362.3 152.9h0M356.8 193.5h0M366.6 173.3h0M367.6 191.2h0M359.6 186.8h0M344.9 170.3h0M364.7 188.6h0M325.5 192.9h0M328.0 184.9h0M375.6 185.0h0M352.1 170.9h0M363.4 182.3h0M379.2 162.1h0M329.2 175.1h0M369.7 171.2h0M353.9 183.2h0M352.7 187.5h0M369.1 158.8h0M355.3 188.9h0M319.4 188.9h0M352.4 155.6h0M369.3 184.5h0M346.3 159.1h0M345.5 158.0h0M348.5 168.4h0M326.8 186.9h0M323.0 184.7h0M347.1 181.7h0M360.2 193.0h0M380.7 174.6h0M334.3 183.2h0M385.0 182.5h0M360.3 183.1h0M326.0 185.0h0M364.8 173.7h0M354.7 193.5h0M350.9 184.0h0M357.3 191.8h0M358.4 159.9h0M360.2 190.7h0M359.8 189.3h0M347.6 189.6h0M328.5 183.4h0M347.0 192.7h0M371.0 191.2h0M378.8 191.8h0M378.0 193.2h0M384.2 183.4h0M328.4 181.6h0M364.4 189.3h0M348.6 172.3h0M354.8 192.8h0M364.4 163.8h0M343.9 169.7h0M364.5 179.0h0M354.6 167.5h0M338.4 191.6h0M360.9 171.1h0M333.7 170.7h0M362.4 180.3h0M367.4 169.1h0M360.8 159.5h0M352.8 191.2h0M360.0 162.4h0M355.7 163.3h0M358.8 188.3h0M324.6 185.5h0M343.4 176.0h0M344.9 145.5h0M379.0 182.6h0M359.1 171.3h0M340.6 156.1h0M342.9 179.2h0M358.2 175.0h0M340.0 174.7h0M366.7 192.1h0M349.3 183.3h0M367.2 158.9h0M331.1 180.2h0M372.9 178.4h0M347.4 179.9h0M358.1 178.7h0M373.9 193.0h0M361.4 183.4h0M375.8 161.6h0M325.9 189.5h0M364.1 137.4h0M347.0 179.4h0M366.1 187.4h0M355.2 169.9h0M350.7 145.5h0M354.1 188.8h0M354.5 184.2h0M341.4 160.6h0M356.3 180.0h0M359.9 133.0h0M355.3 177.1h0M353.4 150.8h0M342.5 181.2h0M348.1 154.5h0M350.7 186.6h0M329.9 186.2h0M366.8 171.6h0M354.9 186.1h0M351.1 181.6h0M359.6 164.1h0M371.8 159.4h0M337.6 165.5h0M338.5 191.5h0M366.1 188.6h0M348.4 152.5h0M377.1 176.0h0M341.3 191.7h0M344.1 190.3h0M374.9 175.9h0M372.5 163.3h0M324.6 179.6h0M369.9 190.7h0M377.6 187.1h0M344.6 150.7h0M380.8 179.5h0M350.2 193.4h0M349.2 184.7h0M370.3 169.8h0M332.0 187.1h0M344.4 154.3h0M334.5 183.1h0M344.2 182.3h0M368.6 190.8h0M363.9 185.6h0M350.8 179.8h0M369.7 175.4h0M349.1 187.1h0M343.2 191.8h0M339.3 152.2h0M359.1 180.7h0M364.7 144.8h0M369.7 157.5h0M347.4 182.0h0M343.2 179.5h0M342.5 183.4h0M354.7 181.3h0M352.9 184.8h0M382.9 183.0h0M338.8 174.0h0M337.3 189.8h0M359.6 192.8h0M377.7 192.8h0M340.9 164.1h0M320.2 188.4h0M335.1 181.1h0M355.3 171.6h0M351.8 191.8h0M332.1 189.1h0M366.9 173.5h0M336.8 169.5h0M353.1 174.0h0M350.1 190.3h0M359.1 154.4h0M347.0 167.9h0M371.3 187.6h0M362.6 186.6h0M357.5 191.1h0M365.1 181.9h0M360.6 184.9h0M372.2 177.8h0M352.9 154.8h0M365.6 188.8h0M342.4 146.1h0M362.6 176.5h0M371.1 185.0h0M379.3 180.5h0M362.3 156.2h0M344.9 152.6h0M370.8 178.2h0M349.7 184.7h0M362.4 181.4h0M378.5 190.3h0M377.1 183.9h0M369.9 170.7h0M362.0 163.5h0M362.6 188.9h0M337.3 193.1h0M346.4 183.6h0M350.4 186.9h0M352.7 182.9h0M378.4 179.8h0M335.0 181.3h0M382.7 169.7h0M354.9 158.6h0M360.7 183.8h0M358.4 156.1h0M346.4 180.9h0M378.7 173.2h0M358.1 189.2h0M378.2 185.0h0M368.3 140.5h0M347.0 187.4h0M339.9 191.9h0M335.6 179.9h0M374.3 190.9h0M371.2 139.1h0M359.9 144.6h0M362.8 193.0h0M361.6 187.0h0M344.6 176.9h0M338.4 185.7h0M352.6 191.0h0M366.4 184.4h0M360.1 174.9h0M337.7 177.4h0M344.1 172.1h0M360.2 183.4h0M378.6 187.1h0M325.6 184.7h0M358.8 164.6h0M355.9 172.3h0M343.3 179.9h0M351.1 181.5h0M363.0 185.5h0M357.7 163.7h0M344.9 193.1h0M359.5 183.1h0M342.7 166.2h0M379.3 171.6h0M361.9 193.3h0M327.8 167.6h0M371.7 174.3h0M366.1 183.2h0M345.5 165.7h0M351.3 174.3h0M360.6 192.6h0M359.8 158.0h0M344.6 181.6h0M346.7 160.7h0M383.9 180.5h0M376.7 172.8h0M354.1 182.2h0M374.7 189.4h0M374.0 187.2h0M361.8 152.4h0M367.7 140.4h0M364.6 164.1h0M362.7 143.5h0M350.6 147.3h0M366.4 185.1h0M352.5 172.6h0M351.5 188.5h0M357.4 174.1h0M364.1 159.8h0M354.7 187.6h0M350.9 168.0h0M374.5 183.3h0M361.0 192.5h0M361.2 179.7h0M349.8 153.1h0M351.7 178.5h0M347.0 167.7h0M368.5 175.1h0M354.0 180.2h0M350.4 149.4h0M348.1 180.3h0M354.0 187.4h0M353.7 191.9h0M365.7 165.2h0M342.4 164.8h0M367.1 185.3h0M353.4 153.0h0M359.2 172.1h0M326.4 187.2h0M373.8 180.0h0M337.6 193.7h0M334.3 191.5h0M375.0 164.5h0M352.8 173.5h0M345.4 163.5h0M342.6 177.6h0M368.5 154.4h0M346.7 176.1h0M350.9 186.4h0M372.5 166.3h0M348.4 172.4h0M332.4 187.6h0M330.1 185.0h0M376.7 175.1h0M353.5 172.3h0M352.8 174.1h0M332.8 177.2h0M341.5 174.5h0M357.9 173.5h0M344.4 182.7h0M352.0 185.6h0M332.2 172.4h0M375.3 182.0h0M317.7 190.0h0M361.6 191.6h0M343.8 187.0h0M344.8 169.0h0M376.8 193.2h0M368.0 175.4h0M341.7 178.5h0M365.3 165.6h0M358.1 177.1h0M339.7 182.1h0M359.5 139.9h0M343.9 189.5h0M340.7 188.6h0M382.4 192.9h0M348.3 191.8h0M372.3 139.3h0M333.6 176.4h0M347.4 163.4h0M357.9 190.8h0M359.2 158.2h0M352.6 164.7h0M348.2 178.6h0M364.6 175.0h0M373.8 159.6h0M361.0 190.2h0M362.3 181.7h0M357.4 138.5h0M363.5 189.0h0M354.9 187.3h0M354.4 188.4h0M377.6 192.4h0M339.9 184.1h0M350.9 191.4h0M374.6 192.4h0M371.1 160.5h0M351.3 186.3h0M359.3 174.9h0M319.2 190.7h0M368.0 179.5h0M350.4 189.1h0M345.1 187.3h0M362.1 173.9h0M367.6 178.2h0M355.9 173.8h0M336.9 182.5h0M346.6 163.0h0M369.3 193.2h0M354.0 149.2h0M334.1 190.3h0M376.7 179.8h0M349.8 190.5h0M361.3 185.3h0M362.1 168.5h0M371.2 182.6h0M348.4 177.2h0M356.3 174.4h0M348.3 181.4h0M347.3 185.7h0M361.1 141.4h0M348.2 164.1h0M364.6 175.7h0M370.8 185.3h0M368.6 171.6h0M348.7 192.3h0M362.3 190.7h0M315.8 191.4h0M334.5 192.7h0M364.0 192.1h0M354.6 192.3h0M325.3 191.6h0M326.5 193.0h0M319.2 192.8h0M320.3 192.4h0M338.9 191.5h0M374.8 190.4h0M319.3 193.1h0M351.1 190.6h0M385.1 193.1h0M323.0 191.6h0M324.6 191.2h0M359.1 190.8h0M364.5 190.4h0M327.2 192.8h0M343.4 191.6h0M357.3 191.7h0M342.3 190.4h0M366.6 193.2h0M384.3 192.3h0M340.3 191.4h0M364.0 192.3h0M323.1 191.0h0M340.8 191.8h0M372.5 191.8h0M317.0 192.8h0M345.5 191.9h0M330.8 191.6h0M342.6 192.6h0M322.3 191.9h0M327.6 192.4h0M317.6 191.1h0M339.4 192.2h0M318.7 191.7h0M329.8 191.2h0M348.8 193.2h0M349.1 193.2h0M326.9 193.1h0M340.9 190.9h0M368.1 193.0h0M315.5 191.1h0M369.7 191.3h0M332.1 190.3h0M317.8 192.2h0M384.9 193.3h0M350.8 190.4h0M337.9 192.7h0M374.1 192.2h0M331.3 191.9h0M348.9 192.2h0M333.6 193.1h0M378.5 190.8h0M335.7 192.9h0M334.8 193.1h0M351.6 192.4h0M365.0 190.9h0M335.2 191.1h0M363.5 192.4h0M324.4 193.0h0M344.8 191.0h0M345.9 193.2h0M354.8 192.2h0M380.3 193.2h0M369.0 191.6h0M356.8 193.0h0" stroke="#000" stroke-width="3.65" stroke-linecap="round" fill="none"/>
<rect x="469.33" y="7.2" width="195.33" height="22.80" fill="#D0D0D0"/>
<rect x="469.33" y="30.0" width="195.33" height="170.75" fill="#E5E5E5"/>
<text x="566.99" y="23.30" font-size="11.73" fill="#1A1A1A" text-anchor="middle">table</text>
<g><line x1="469.33" x2="664.66" y1="175.35" y2="175.35" stroke="#FFFFFF" stroke-width="0.85"/><line x1="469.33" x2="664.66" y1="132.85" y2="132.85" stroke="#FFFFFF" stroke-width="0.85"/><line x1="469.33" x2="664.66" y1="90.35" y2="90.35" stroke="#FFFFFF" stroke-width="0.85"/><line x1="469.33" x2="664.66" y1="47.85" y2="47.85" stroke="#FFFFFF" stroke-width="0.85"/><line x1="493.77" x2="493.77" y1="30.0" y2="200.75" stroke="#FFFFFF" stroke-width="0.85"/><line x1="546.02" x2="546.02" y1="30.0" y2="200.75" stroke="#FFFFFF" stroke-width="0.85"/><line x1="598.27" x2="598.27" y1="30.0" y2="200.75" stroke="#FFFFFF" stroke-width="0.85"/><line x1="650.52" x2="650.52" y1="30.0" y2="200.75" stroke="#FFFFFF" stroke-width="0.85"/><line x1="469.33" x2="664.66" y1="196.60" y2="196.60" stroke="#FFFFFF" stroke-width="1.42"/><line x1="469.33" x2="664.66" y1="154.10" y2="154.10" stroke="#FFFFFF" stroke-width="1.42"/><line x1="469.33" x2="664.66" y1="111.60" y2="111.60" stroke="#FFFFFF" stroke-width="1.42"/><line x1="469.33" x2="664.66" y1="69.10" y2="69.10" stroke="#FFFFFF" stroke-width="1.42"/><line x1="519.90" x2="519.90" y1="30.0" y2="200.75" stroke="#FFFFFF" stroke-width="1.42"/><line x1="572.15" x2="572.15" y1="30.0" y2="200.75" stroke="#FFFFFF" stroke-width="1.42"/><line x1="624.40" x2="624.40" y1="30.0" y2="200.75" stroke="#FFFFFF" stroke-width="1.42"/></g>
<line x1="519.90" x2="519.90" y1="200.75" y2="204.42" stroke="#333333" stroke-width="1.42"/>
<text x="519.90" y="216.5" font-size="11.73" fill="#4D4D4D" text-anchor="middle">55</text>
<line x1="572.15" x2="572.15" y1="200.75" y2="204.42" stroke="#333333" stroke-width="1.42"/>
<text x="572.15" y="216.5" font-size="11.73" fill="#4D4D4D" text-anchor="middle">60</text>
<line x1="624.40" x2="624.40" y1="200.75" y2="204.42" stroke="#333333" stroke-width="1.42"/>
<text x="624.40" y="216.5" font-size="11.73" fill="#4D4D4D" text-anchor="middle">65</text>
<path clip-path="url(#c02)" d="M519.9 38.8h0M519.9 66.8h0M519.9 74.5h0M519.9 87.9h0M518.9 77.0h0M521.1 94.9h0M530.4 60.9h0M530.4 67.2h0M530.4 69.1h0M530.4 71.1h0M530.4 74.0h0M530.4 82.8h0M530.4 88.3h0M530.4 94.2h0M540.8 51.9h0M540.8 54.4h0M540.8 58.0h0M540.8 68.2h0M540.8 74.0h0M540.8 94.9h0M540.8 97.1h0M540.8 98.8h0M551.2 39.5h0M551.2 46.5h0M551.2 52.6h0M551.2 54.5h0M551.2 56.5h0M551.2 58.4h0M551.2 67.2h0M551.2 75.9h0M551.2 78.1h0M551.2 80.3h0M551.2 84.0h0M551.2 86.2h0M551.2 91.2h0M551.2 93.4h0M551.2 95.6h0M551.2 97.8h0M551.2 99.7h0M561.7 37.6h0M561.7 44.6h0M561.7 46.8h0M561.7 49.0h0M561.7 51.9h0M561.7 53.3h0M561.7 59.2h0M561.7 60.9h0M561.7 62.4h0M561.7 70.8h0M561.7 75.2h0M561.7 81.0h0M561.7 82.2h0M561.7 90.1h0M561.7 97.4h0M561.7 98.8h0M509.4 63.2h0M499.0 79.6h0M572.1 52.3h0M572.1 65.3h0M572.1 66.5h0M572.1 73.8h0M572.1 84.7h0M582.6 40.5h0M582.6 78.1h0M582.6 79.3h0M603.5 95.6h0M488.6 143.8h0M499.0 129.6h0M499.0 136.0h0M499.0 168.8h0M509.4 107.3h0M509.4 141.6h0M509.4 149.6h0M509.4 157.6h0M509.4 159.1h0M509.4 164.9h0M509.4 166.8h0M509.4 169.7h0M513.5 138.9h0M533.5 115.3h0M545.9 134.7h0M478.0 169.7h0M519.9 102.5h0M519.9 113.8h0M519.9 117.1h0M519.9 124.5h0M519.9 130.9h0M519.9 132.1h0M519.9 137.9h0M519.9 149.6h0M519.9 153.2h0M519.9 154.7h0M519.9 158.3h0M519.9 160.5h0M519.9 163.4h0M519.9 167.8h0M519.9 169.7h0M530.4 107.6h0M530.4 108.8h0M530.4 112.4h0M530.4 116.8h0M530.4 119.0h0M530.4 125.5h0M530.4 127.0h0M530.4 131.2h0M530.4 132.4h0M530.4 134.2h0M530.4 135.2h0M530.4 136.7h0M530.4 137.7h0M530.4 139.5h0M530.4 140.5h0M530.4 142.4h0M530.4 142.9h0M530.4 144.3h0M530.4 145.6h0M530.4 147.3h0M530.4 148.1h0M530.4 149.3h0M530.4 150.5h0M530.4 151.8h0M530.4 153.0h0M530.4 154.6h0M530.4 155.8h0M530.4 157.8h0M530.4 158.3h0M530.4 160.5h0M530.4 161.0h0M530.4 162.6h0M530.4 163.6h0M530.4 165.9h0M530.4 166.1h0M530.4 168.3h0M530.4 169.5h0M540.8 101.5h0M540.8 103.7h0M540.8 105.8h0M540.8 108.0h0M540.8 110.2h0M540.8 112.4h0M540.8 120.4h0M540.8 121.9h0M540.8 127.0h0M540.8 131.7h0M540.8 133.4h0M540.8 134.2h0M540.8 136.0h0M540.8 137.2h0M540.8 137.8h0M540.8 139.3h0M540.8 141.6h0M540.8 142.4h0M540.8 143.1h0M540.8 145.5h0M540.8 145.7h0M540.8 147.5h0M540.8 148.6h0M540.8 150.3h0M540.8 151.3h0M540.8 152.5h0M540.8 153.7h0M540.8 154.8h0M540.8 156.5h0M540.8 157.6h0M540.8 159.1h0M540.8 160.0h0M540.8 161.8h0M540.8 163.4h0M540.8 164.1h0M540.8 165.4h0M540.8 166.7h0M540.8 168.1h0M540.8 169.8h0M551.2 100.6h0M551.2 102.1h0M551.2 103.5h0M551.2 104.8h0M551.2 106.0h0M551.2 107.3h0M551.2 108.9h0M551.2 111.5h0M551.2 112.1h0M551.2 116.3h0M551.2 118.2h0M551.2 120.4h0M551.2 124.1h0M551.2 128.2h0M551.2 130.3h0M551.2 131.4h0M551.2 131.9h0M551.2 133.3h0M551.2 134.6h0M551.2 135.9h0M551.2 137.0h0M551.2 139.5h0M551.2 140.0h0M551.2 141.3h0M551.2 142.8h0M551.2 143.6h0M551.2 145.5h0M551.2 146.3h0M551.2 148.5h0M551.2 149.7h0M551.2 151.4h0M551.2 152.3h0M551.2 153.4h0M551.2 154.2h0M551.2 155.5h0M551.2 158.0h0M551.2 158.8h0M551.2 160.6h0M551.2 160.8h0M551.2 162.5h0M551.2 164.4h0M551.2 164.8h0M551.2 167.3h0M551.2 168.1h0M551.2 169.5h0M561.7 100.7h0M561.7 102.9h0M561.7 104.4h0M561.7 113.8h0M561.7 115.3h0M561.7 118.2h0M561.7 127.5h0M561.7 128.1h0M561.7 129.9h0M561.7 130.5h0M561.7 133.0h0M561.7 134.2h0M561.7 135.4h0M561.7 136.3h0M561.7 138.1h0M561.7 139.4h0M561.7 141.2h0M561.7 141.5h0M561.7 144.0h0M561.7 145.3h0M561.7 145.8h0M561.7 147.1h0M561.7 148.4h0M561.7 150.1h0M561.7 151.9h0M561.7 152.4h0M561.7 153.7h0M561.7 155.0h0M561.7 157.6h0M561.7 158.4h0M561.7 159.3h0M561.7 161.0h0M561.7 161.9h0M561.7 164.2h0M561.7 165.8h0M561.7 166.9h0M561.7 167.9h0M561.7 168.7h0M572.1 102.5h0M572.1 118.2h0M572.1 125.5h0M572.1 127.4h0M572.1 131.3h0M572.1 133.2h0M572.1 135.0h0M572.1 137.2h0M572.1 144.5h0M572.1 146.4h0M572.1 148.1h0M572.1 150.3h0M572.1 152.8h0M572.1 154.7h0M572.1 156.9h0M572.1 160.1h0M572.1 161.5h0M572.1 167.4h0M572.1 169.3h0M582.6 112.1h0M582.6 120.4h0M582.6 122.2h0M582.6 127.4h0M582.6 133.2h0M582.6 135.0h0M582.6 140.1h0M582.6 142.3h0M582.6 143.8h0M582.6 145.5h0M582.6 147.0h0M582.6 154.7h0M582.6 158.3h0M582.6 162.7h0M582.6 164.2h0M582.6 165.6h0M582.6 167.4h0M582.6 169.3h0M593.0 127.4h0M593.0 131.8h0M593.0 140.1h0M593.0 146.4h0M593.0 147.4h0M593.0 151.3h0M593.0 154.7h0M593.0 159.5h0M593.0 164.5h0M593.0 169.7h0M603.5 121.4h0M603.5 150.3h0M603.5 152.2h0M603.5 154.2h0M603.5 156.2h0M603.5 157.9h0M603.5 159.8h0M603.5 161.2h0M614.0 116.3h0M614.0 144.8h0M478.1 170.9h0M488.6 177.2h0M488.6 192.1h0M499.0 175.3h0M499.0 189.6h0M499.0 191.0h0M499.0 192.8h0M509.4 170.6h0M509.4 172.8h0M509.4 175.0h0M509.4 182.3h0M509.4 183.8h0M509.4 186.7h0M509.4 188.9h0M509.4 191.0h0M509.4 192.5h0M496.4 192.2h0M505.5 179.1h0M510.6 174.3h0M516.4 175.7h0M514.2 189.6h0M512.8 190.8h0M527.3 177.6h0M528.1 182.3h0M534.6 173.2h0M566.0 186.4h0M519.9 170.0h0M519.9 170.4h0M519.9 172.6h0M519.9 173.0h0M519.9 174.5h0M519.9 175.4h0M519.9 176.7h0M519.9 177.6h0M519.9 178.6h0M519.9 179.6h0M519.9 181.1h0M519.9 181.9h0M519.9 184.0h0M519.9 184.7h0M519.9 185.9h0M519.9 186.7h0M519.9 188.2h0M519.9 188.7h0M519.9 190.0h0M519.9 191.7h0M519.9 192.9h0M519.9 194.0h0M530.4 170.6h0M530.4 170.8h0M530.4 172.2h0M530.4 172.9h0M530.4 174.1h0M530.4 174.3h0M530.4 175.8h0M530.4 176.2h0M530.4 177.0h0M530.4 178.4h0M530.4 178.9h0M530.4 180.1h0M530.4 180.5h0M530.4 181.5h0M530.4 182.6h0M530.4 183.5h0M530.4 184.2h0M530.4 185.0h0M530.4 186.2h0M530.4 186.6h0M530.4 187.5h0M530.4 188.6h0M530.4 189.5h0M530.4 190.2h0M530.4 191.4h0M530.4 191.5h0M530.4 193.0h0M530.4 193.9h0M540.8 170.0h0M540.8 171.1h0M540.8 171.8h0M540.8 172.6h0M540.8 173.0h0M540.8 174.0h0M540.8 175.0h0M540.8 175.8h0M540.8 176.2h0M540.8 176.9h0M540.8 178.3h0M540.8 178.5h0M540.8 179.5h0M540.8 180.1h0M540.8 181.2h0M540.8 181.9h0M540.8 182.5h0M540.8 183.2h0M540.8 184.3h0M540.8 185.4h0M540.8 186.1h0M540.8 186.7h0M540.8 187.6h0M540.8 188.0h0M540.8 188.6h0M540.8 189.4h0M540.8 190.2h0M540.8 190.9h0M540.8 192.0h0M540.8 192.9h0M540.8 193.8h0M540.8 194.4h0M551.2 170.5h0M551.2 170.8h0M551.2 172.1h0M551.2 172.7h0M551.2 173.7h0M551.2 174.2h0M551.2 175.2h0M551.2 176.0h0M551.2 176.3h0M551.2 176.9h0M551.2 178.3h0M551.2 179.1h0M551.2 179.3h0M551.2 180.0h0M551.2 181.4h0M551.2 181.6h0M551.2 182.6h0M551.2 183.7h0M551.2 184.5h0M551.2 184.8h0M551.2 185.8h0M551.2 186.8h0M551.2 187.3h0M551.2 188.1h0M551.2 189.0h0M551.2 189.7h0M551.2 190.4h0M551.2 191.2h0M551.2 191.9h0M551.2 193.1h0M551.2 193.3h0M551.2 194.7h0M561.7 170.3h0M561.7 170.7h0M561.7 171.6h0M561.7 172.9h0M561.7 173.9h0M561.7 174.7h0M561.7 175.2h0M561.7 175.7h0M561.7 176.5h0M561.7 177.3h0M561.7 178.4h0M561.7 178.9h0M561.7 180.2h0M561.7 180.7h0M561.7 181.8h0M561.7 182.6h0M561.7 183.5h0M561.7 184.2h0M561.7 184.9h0M561.7 185.5h0M561.7 186.5h0M561.7 187.6h0M561.7 187.9h0M561.7 188.6h0M561.7 189.5h0M561.7 191.0h0M561.7 191.7h0M561.7 192.3h0M561.7 193.0h0M561.7 193.9h0M572.1 170.6h0M572.1 174.3h0M572.1 178.7h0M572.1 180.8h0M572.1 183.0h0M572.1 185.2h0M572.1 186.7h0M572.1 188.9h0M572.1 190.3h0M572.1 192.2h0M577.2 172.8h0M574.3 185.9h0M569.2 190.3h0M585.2 175.7h0M599.4 180.1h0M582.6 170.6h0M582.6 174.3h0M582.6 176.2h0M582.6 178.2h0M582.6 180.1h0M582.6 182.0h0M582.6 183.8h0M582.6 188.9h0M582.6 190.8h0M582.6 192.5h0M593.0 170.6h0M593.0 174.7h0M593.0 178.2h0M593.0 189.6h0M593.0 191.0h0M603.5 172.4h0M603.5 175.7h0M603.5 177.2h0M603.5 179.7h0M603.5 189.6h0M603.5 190.8h0M624.4 177.9h0M624.4 192.5h0M655.8 179.7h0" stroke="#000" stroke-width="3.65" stroke-linecap="round" fill="none"/>
<line x1="60.33" x2="64" y1="196.60" y2="196.60" stroke="#333333" stroke-width="1.42"/>
<text x="57" y="201.30" font-size="11.73" fill="#4D4D4D" text-anchor="end">0</text>
<line x1="60.33" x2="64" y1="154.10" y2="154.10" stroke="#333333" stroke-width="1.42"/>
<text x="57" y="158.80" font-size="11.73" fill="#4D4D4D" text-anchor="end">5000</text>
<line x1="60.33" x2="64" y1="111.60" y2="111.60" stroke="#333333" stroke-width="1.42"/>
<text x="57" y="116.30" font-size="11.73" fill="#4D4D4D" text-anchor="end">10000</text>
<line x1="60.33" x2="64" y1="69.10" y2="69.10" stroke="#333333" stroke-width="1.42"/>
<text x="57" y="73.80" font-size="11.73" fill="#4D4D4D" text-anchor="end">15000</text>
<rect x="64.00" y="226.1" width="195.33" height="21.80" fill="#D0D0D0"/>
<rect x="64.00" y="247.9" width="195.33" height="171.75" fill="#E5E5E5"/>
<text x="161.67" y="242.20" font-size="11.73" fill="#1A1A1A" text-anchor="middle">x</text>
<g><line x1="64.00" x2="259.33" y1="393.95" y2="393.95" stroke="#FFFFFF" stroke-width="0.85"/><line x1="64.00" x2="259.33" y1="351.45" y2="351.45" stroke="#FFFFFF" stroke-width="0.85"/><line x1="64.00" x2="259.33" y1="308.95" y2="308.95" stroke="#FFFFFF" stroke-width="0.85"/><line x1="64.00" x2="259.33" y1="266.45" y2="266.45" stroke="#FFFFFF" stroke-width="0.85"/><line x1="107.44" x2="107.44" y1="247.9" y2="419.65" stroke="#FFFFFF" stroke-width="0.85"/><line x1="172.02" x2="172.02" y1="247.9" y2="419.65" stroke="#FFFFFF" stroke-width="0.85"/><line x1="236.60" x2="236.60" y1="247.9" y2="419.65" stroke="#FFFFFF" stroke-width="0.85"/><line x1="64.00" x2="259.33" y1="415.20" y2="415.20" stroke="#FFFFFF" stroke-width="1.42"/><line x1="64.00" x2="259.33" y1="372.70" y2="372.70" stroke="#FFFFFF" stroke-width="1.42"/><line x1="64.00" x2="259.33" y1="330.20" y2="330.20" stroke="#FFFFFF" stroke-width="1.42"/><line x1="64.00" x2="259.33" y1="287.70" y2="287.70" stroke="#FFFFFF" stroke-width="1.42"/><line x1="75.15" x2="75.15" y1="247.9" y2="419.65" stroke="#FFFFFF" stroke-width="1.42"/><line x1="139.73" x2="139.73" y1="247.9" y2="419.65" stroke="#FFFFFF" stroke-width="1.42"/><line x1="204.31" x2="204.31" y1="247.9" y2="419.65" stroke="#FFFFFF" stroke-width="1.42"/></g>
<line x1="75.15" x2="75.15" y1="419.65" y2="423.32" stroke="#333333" stroke-width="1.42"/>
<text x="75.15" y="434.5" font-size="11.73" fill="#4D4D4D" text-anchor="middle">4</text>
<line x1="139.73" x2="139.73" y1="419.65" y2="423.32" stroke="#333333" stroke-width="1.42"/>
<text x="139.73" y="434.5" font-size="11.73" fill="#4D4D4D" text-anchor="middle">6</text>
<line x1="204.31" x2="204.31" y1="419.65" y2="423.32" stroke="#333333" stroke-width="1.42"/>
<text x="204.31" y="434.5" font-size="11.73" fill="#4D4D4D" text-anchor="middle">8</text>
<path clip-path="url(#c10)" d="M178.5 257.8h0M192.3 257.3h0M199.6 259.2h0M211.9 256.0h0M220.6 258.0h0M209.5 263.6h0M203.6 266.5h0M225.4 265.0h0M240.9 269.7h0M227.2 271.2h0M183.9 272.8h0M186.1 272.3h0M191.9 271.9h0M202.8 271.6h0M207.5 270.9h0M212.3 270.6h0M212.8 273.1h0M208.4 275.2h0M206.9 277.0h0M205.5 279.3h0M202.8 280.8h0M191.9 277.4h0M195.2 279.3h0M185.3 279.6h0M224.4 277.0h0M216.2 281.8h0M189.7 284.0h0M191.9 285.8h0M211.9 285.5h0M223.2 285.0h0M206.9 286.6h0M205.5 289.5h0M227.2 289.1h0M167.2 292.8h0M181.0 292.5h0M183.2 293.5h0M192.3 292.3h0M188.0 294.5h0M202.8 292.8h0M212.3 292.8h0M209.8 295.4h0M182.1 296.8h0M183.6 298.3h0M185.6 297.9h0M225.4 297.9h0M195.2 299.8h0M194.1 301.2h0M188.0 301.5h0M216.2 300.3h0M219.6 302.7h0M186.1 304.4h0M192.3 304.1h0M250.2 303.2h0M212.3 304.9h0M182.4 307.0h0M186.5 306.6h0M210.9 308.8h0M217.4 310.2h0M166.4 314.2h0M181.7 313.2h0M184.6 312.4h0M186.1 314.6h0M198.9 313.5h0M209.4 312.9h0M175.8 316.4h0M182.4 316.8h0M187.5 316.8h0M193.3 316.4h0M217.4 317.2h0M172.9 318.7h0M186.8 318.7h0M160.2 317.5h0M153.0 326.0h0M161.0 324.1h0M160.2 327.5h0M155.2 334.3h0M155.9 338.7h0M159.5 340.9h0M157.0 345.0h0M151.5 346.4h0M144.2 348.2h0M161.0 348.2h0M131.5 368.1h0M132.8 378.1h0M131.4 380.2h0M121.6 387.2h0M119.7 388.7h0M128.2 386.4h0M172.9 319.7h0M178.8 321.2h0M182.4 320.8h0M184.6 321.6h0M186.1 320.5h0M183.6 323.1h0M207.2 321.2h0M162.7 322.6h0M168.1 326.3h0M169.0 328.5h0M186.8 326.6h0M191.9 326.3h0M209.8 326.7h0M178.8 328.9h0M188.2 329.5h0M185.3 331.0h0M197.0 329.9h0M193.8 331.8h0M197.7 332.4h0M165.2 332.4h0M171.9 332.6h0M175.1 334.8h0M180.2 334.0h0M209.0 335.0h0M166.1 335.8h0M168.6 336.5h0M167.1 338.0h0M186.8 335.8h0M190.4 337.2h0M194.1 337.2h0M187.5 339.1h0M179.5 340.6h0M182.4 339.9h0M175.4 343.1h0M176.3 346.0h0M183.2 345.5h0M186.1 343.8h0M188.0 345.5h0M191.2 344.1h0M191.9 346.4h0M167.1 347.1h0M167.5 348.9h0M195.8 349.9h0M171.5 350.4h0M177.3 350.4h0M162.7 349.9h0M181.7 350.8h0M183.6 351.8h0M179.5 354.0h0M176.3 353.7h0M167.8 353.7h0M173.4 354.7h0M187.5 356.6h0M186.1 358.4h0M183.9 358.7h0M173.7 361.3h0M172.9 363.5h0M175.1 363.5h0M189.3 363.5h0M183.2 366.0h0M179.8 370.3h0M171.5 369.3h0M173.4 370.8h0M170.0 372.7h0M175.1 379.5h0M176.3 379.1h0M185.0 380.0h0M172.2 383.2h0M170.0 379.1h0M189.0 388.3h0M131.5 368.0h0M129.6 405.7h0M139.1 404.5h0M146.4 400.1h0M148.3 401.0h0M157.0 395.2h0M160.2 395.2h0M110.4 390.4h0M131.8 377.7h0M142.8 398.7h0M90.4 409.5h0M149.0 377.9h0M75.4 410.3h0M95.1 408.8h0M148.7 366.8h0M86.0 408.1h0M85.4 409.7h0M115.0 401.0h0M149.0 387.3h0M146.2 378.3h0M158.8 381.0h0M108.7 407.6h0M73.2 411.8h0M118.2 399.7h0M123.2 392.4h0M156.9 367.2h0M78.3 410.9h0M143.6 386.2h0M166.9 361.7h0M99.9 405.4h0M145.4 379.6h0M95.6 405.9h0M163.2 365.6h0M159.7 359.3h0M159.9 375.0h0M132.9 390.0h0M144.9 388.0h0M133.5 394.1h0M113.8 402.7h0M79.9 409.4h0M135.1 388.5h0M94.3 407.2h0M123.6 401.0h0M140.1 381.0h0M90.7 409.0h0M74.8 411.1h0M118.3 400.1h0M127.3 396.7h0M125.2 395.0h0M107.4 407.0h0M85.1 410.4h0M76.7 410.6h0M109.5 402.9h0M141.3 386.4h0M108.8 408.4h0M119.8 403.0h0M135.2 393.7h0M138.0 390.0h0M156.3 369.9h0M102.2 406.6h0M105.8 407.8h0M158.2 356.5h0M137.6 390.1h0M150.8 374.0h0M96.0 409.9h0M128.1 390.9h0M93.2 408.3h0M133.2 387.5h0M134.2 386.6h0M103.0 408.4h0M146.0 374.5h0M113.1 403.2h0M156.0 361.6h0M159.0 365.1h0M155.5 372.5h0M102.3 406.4h0M152.8 365.6h0M87.6 406.5h0M136.7 381.6h0M125.3 398.8h0M84.4 407.5h0M125.1 395.1h0M92.4 411.4h0M99.8 409.5h0M173.6 355.1h0M75.3 411.1h0M138.4 391.1h0M93.4 410.0h0M152.6 363.8h0M124.5 392.6h0M111.4 402.4h0M85.8 411.0h0M81.3 410.4h0M145.6 376.6h0M115.5 401.3h0M159.4 376.3h0M158.4 352.6h0M132.2 393.1h0M145.8 374.1h0M152.6 371.4h0M134.7 394.8h0M98.9 410.6h0M150.3 364.8h0M91.4 408.9h0M94.2 409.5h0M137.0 388.4h0M79.2 410.8h0M157.0 363.5h0M118.9 401.7h0M138.1 388.2h0M117.2 400.5h0M137.4 386.2h0M82.3 410.0h0M101.0 405.2h0M131.5 387.0h0M82.3 410.0h0M120.7 397.3h0M90.4 410.3h0M74.3 411.2h0M144.7 385.6h0M129.8 393.2h0M146.2 376.1h0M139.9 387.5h0M94.0 409.2h0M88.0 408.7h0M96.2 409.5h0M130.6 392.1h0M115.6 398.1h0M109.5 401.6h0M104.5 406.8h0M144.7 377.3h0M153.5 369.5h0M155.7 378.3h0M166.1 359.2h0M109.8 403.5h0M95.5 410.0h0M155.4 382.1h0M120.7 401.8h0M111.0 400.9h0M79.6 409.4h0M76.5 410.0h0M118.9 398.1h0M82.6 411.5h0M98.3 408.3h0M81.9 410.9h0M150.5 372.7h0M88.7 406.8h0M90.7 410.5h0M129.2 392.5h0M102.4 406.3h0M154.8 371.1h0M103.1 410.6h0M165.6 357.9h0M91.2 412.0h0M83.8 411.1h0M123.0 400.9h0M101.0 408.8h0M164.0 357.5h0M130.9 393.9h0M105.3 404.6h0M88.5 407.9h0M120.1 395.8h0M88.1 408.2h0M140.1 389.8h0M134.2 392.6h0M164.7 372.9h0M157.2 368.5h0M111.4 401.3h0M137.2 382.5h0M89.9 409.9h0M162.1 350.3h0M139.4 385.8h0M74.7 410.2h0M169.5 350.3h0M131.9 387.4h0M103.7 406.4h0M94.0 409.2h0M145.5 384.3h0M86.5 410.6h0M129.8 394.8h0M73.8 410.6h0M118.2 401.9h0M89.1 406.9h0M82.4 410.6h0M115.6 402.1h0M160.9 352.1h0M101.8 407.9h0M151.5 378.4h0M77.8 410.6h0M99.8 408.7h0M147.6 382.4h0M88.4 411.1h0M119.2 394.8h0M164.0 365.2h0M101.5 407.9h0M127.0 393.6h0M167.1 361.8h0M92.4 410.2h0M115.4 398.1h0M91.1 407.9h0M147.9 381.3h0M133.1 397.8h0M151.0 373.6h0M108.0 404.9h0M85.7 410.1h0M141.9 388.7h0M128.8 394.2h0M82.7 407.7h0M156.3 375.4h0M98.3 410.2h0M119.1 397.5h0M150.9 373.9h0M120.0 402.8h0M124.5 397.5h0M93.0 409.9h0M161.3 366.4h0M105.3 405.2h0M157.5 359.0h0M92.4 408.6h0M97.0 409.1h0M133.6 383.6h0M132.8 390.0h0M126.9 394.6h0M91.9 407.5h0M161.0 355.1h0M93.2 407.9h0M74.3 411.0h0M147.4 381.4h0M129.4 397.3h0M130.8 392.2h0M153.5 381.4h0M163.7 355.8h0M127.1 395.2h0M126.7 392.6h0M83.8 409.6h0M91.0 409.1h0M109.5 400.1h0M156.3 364.4h0M164.6 372.5h0M125.7 396.5h0M134.4 396.1h0M88.2 409.8h0M124.0 396.2h0M170.0 357.1h0M84.1 410.3h0M122.3 398.8h0M151.7 378.4h0M90.3 410.2h0M139.3 384.3h0M102.4 407.1h0M129.6 390.0h0M92.4 408.3h0M107.3 406.2h0M130.0 391.6h0M103.2 408.2h0M135.8 386.9h0M128.3 398.9h0M100.2 407.3h0M161.7 365.1h0M89.9 408.4h0M159.3 354.0h0M158.4 377.3h0M98.8 408.3h0M138.0 394.6h0M79.5 410.6h0M119.3 396.2h0M161.2 365.6h0M148.7 382.4h0M127.6 396.2h0M108.2 405.1h0M131.8 388.5h0M106.8 406.8h0M160.3 353.9h0M165.7 356.4h0M135.9 380.0h0M155.2 362.0h0M81.3 409.0h0M93.7 405.7h0M166.0 357.0h0M106.5 407.7h0M162.6 372.3h0M123.0 392.4h0M94.0 409.2h0M109.7 404.4h0M143.4 382.8h0M97.9 408.6h0M157.9 357.8h0M77.7 410.4h0M87.0 408.9h0M122.9 396.7h0M99.5 408.3h0M161.5 374.6h0M158.9 365.2h0M161.2 378.3h0M87.7 407.5h0M106.0 407.1h0M142.9 380.4h0M155.4 369.2h0M162.3 371.7h0M154.8 369.3h0M96.1 411.1h0M102.0 407.5h0M85.8 411.1h0M94.5 408.9h0M137.6 380.3h0M158.9 361.6h0M113.2 400.4h0M79.3 409.5h0M88.4 410.5h0M129.7 398.9h0M75.6 410.7h0M127.3 396.1h0M118.8 397.2h0M109.8 406.1h0M142.5 384.1h0M156.2 354.7h0M79.5 411.7h0M156.3 370.4h0M157.2 353.9h0M79.7 409.8h0M157.4 380.3h0M132.7 391.7h0M124.2 391.4h0M147.0 384.4h0M88.5 410.1h0M139.4 384.6h0M114.6 403.9h0M121.8 403.1h0M115.8 403.5h0M101.8 407.5h0M140.0 382.2h0M82.6 409.1h0M143.7 383.2h0M159.4 378.9h0M81.8 410.8h0M91.4 411.0h0M84.9 411.3h0M103.6 408.3h0M154.8 372.8h0M88.8 410.7h0M154.5 369.9h0M133.1 387.6h0M163.2 375.7h0M113.2 397.7h0M158.4 372.0h0M73.2 410.3h0M119.9 393.6h0M157.5 376.1h0M141.3 374.9h0M103.6 406.6h0M149.9 374.6h0M149.9 383.2h0M137.4 391.4h0M133.0 389.3h0M163.6 349.2h0M90.2 408.4h0M125.5 391.4h0M136.8 387.1h0M153.5 380.3h0M141.2 378.6h0M128.5 388.7h0M119.4 401.3h0M157.3 365.6h0M90.7 407.3h0M101.3 406.5h0M152.9 371.3h0M95.9 405.9h0M85.5 411.1h0M136.6 388.2h0M79.6 410.7h0M81.6 411.0h0M72.1 411.2h0M94.4 407.3h0M137.9 386.0h0M144.7 381.8h0M155.7 363.0h0M148.8 384.2h0M122.9 398.1h0M114.4 397.7h0M137.9 387.2h0M99.8 408.8h0M110.2 408.7h0M152.8 364.4h0M84.4 412.0h0M88.8 408.1h0M166.3 354.5h0M113.1 397.9h0M84.0 407.6h0M118.8 399.2h0M148.9 366.0h0M172.9 363.6h0M89.6 407.9h0M98.7 408.4h0M79.8 409.5h0M115.0 403.0h0M109.8 406.3h0M90.4 409.0h0M92.3 407.8h0M90.2 410.0h0M84.7 410.1h0M113.2 400.3h0M129.8 395.3h0M141.9 384.5h0M103.0 405.8h0M85.1 408.9h0M72.7 410.9h0M81.2 410.1h0M85.0 411.8h0M169.2 355.1h0M77.1 409.6h0M88.2 407.1h0M158.5 374.2h0M120.2 395.7h0M164.3 360.8h0M146.7 387.2h0M119.3 400.3h0M120.1 400.3h0M163.6 354.4h0M117.2 402.0h0M161.4 364.0h0M133.5 394.4h0M81.6 409.8h0M102.5 406.9h0M127.5 392.7h0M134.5 392.8h0M118.2 400.4h0M117.1 397.5h0M154.2 373.6h0M156.5 373.8h0M104.9 408.7h0M77.6 409.3h0M150.8 377.6h0M74.7 410.1h0M94.0 407.3h0M156.6 378.2h0M92.1 408.2h0M155.2 370.3h0M160.0 365.9h0M157.8 359.9h0M112.2 402.3h0M103.0 409.7h0M153.9 358.0h0M140.8 391.4h0M129.3 389.5h0M119.1 403.3h0M84.5 409.2h0M140.0 385.8h0M154.1 372.7h0M76.5 411.9h0M125.9 396.4h0M93.1 406.3h0M84.2 410.1h0M115.5 404.7h0M156.2 374.4h0M72.9 411.2h0M122.0 397.9h0M90.4 410.4h0M125.7 393.5h0M115.8 404.2h0M130.0 396.1h0M118.3 395.7h0M101.8 405.3h0M159.2 362.8h0M130.8 388.3h0M77.5 411.7h0M126.8 393.1h0M115.8 401.9h0M152.1 376.5h0M87.9 411.1h0M161.8 358.1h0M120.1 395.5h0M101.1 407.7h0M84.9 409.9h0M128.1 395.9h0M90.1 410.8h0M122.4 400.1h0M151.9 373.4h0M106.6 407.7h0M127.8 390.5h0M116.1 402.2h0M142.1 381.6h0M142.4 384.6h0M139.2 378.4h0M111.5 400.7h0M99.9 407.8h0M150.6 365.3h0M82.2 409.9h0M83.5 410.5h0M96.3 410.8h0M129.4 391.6h0M95.6 405.5h0M106.7 405.4h0M119.0 400.5h0M79.1 411.3h0M151.5 369.6h0M79.9 409.7h0M166.8 350.1h0M107.8 405.1h0M132.1 389.5h0M104.8 405.4h0M109.5 403.9h0M115.3 398.2h0M151.4 376.0h0M117.2 403.9h0M148.0 371.9h0M116.0 399.2h0M134.1 389.2h0M134.9 395.1h0M119.5 396.4h0M112.2 403.2h0M83.1 411.1h0M102.9 407.5h0M74.7 411.3h0M96.2 408.9h0M128.6 398.2h0M148.5 375.3h0M110.6 408.2h0M166.0 358.3h0M128.1 394.8h0M85.3 408.8h0M129.2 391.6h0M139.7 386.5h0M85.5 408.7h0M75.2 409.8h0M88.7 409.5h0M137.9 384.0h0M164.2 357.7h0M167.1 355.9h0M90.3 409.0h0M97.6 408.6h0M94.5 405.8h0M100.8 407.5h0M98.6 408.0h0M139.1 384.1h0M110.7 406.0h0M153.8 360.3h0M115.5 402.8h0M121.5 394.5h0M121.3 395.9h0M143.5 377.8h0M162.2 371.9h0M127.8 394.3h0M130.0 398.4h0M101.8 405.3h0M73.9 410.5h0M155.3 375.8h0M152.2 377.3h0M156.6 366.9h0M92.9 410.4h0M144.3 384.7h0M115.6 405.2h0M145.8 381.6h0M167.0 361.4h0M117.8 396.6h0M92.5 407.8h0M124.5 398.8h0M147.8 383.1h0M107.0 405.8h0M109.3 406.4h0M110.6 404.9h0M155.6 365.1h0M109.3 407.4h0M148.6 364.7h0M126.3 393.2h0M148.4 374.5h0M115.4 401.2h0M153.8 371.0h0M90.3 409.0h0M134.3 393.9h0M156.9 350.8h0M82.2 408.5h0M133.2 384.4h0M73.9 411.3h0M74.0 410.4h0M154.7 375.1h0M95.1 408.7h0M101.2 408.8h0M96.5 407.3h0M93.9 407.3h0M75.3 411.5h0M144.1 379.8h0M171.2 356.1h0M134.0 387.9h0M81.9 410.6h0M126.0 395.9h0M81.2 410.6h0M98.8 408.5h0M122.1 394.5h0M99.6 409.1h0M99.5 405.7h0M111.2 406.5h0M74.5 410.1h0M99.5 408.1h0M128.0 388.2h0M139.5 386.6h0M134.4 391.3h0M144.3 378.9h0M166.6 366.5h0M141.4 388.0h0M142.1 380.9h0M80.2 412.3h0M142.8 380.2h0M76.9 410.0h0M95.3 409.9h0M104.6 408.6h0M149.9 365.7h0M97.4 408.4h0M93.6 408.8h0M99.6 409.6h0M91.1 406.6h0M146.8 372.1h0M136.2 395.7h0M76.5 409.9h0M92.7 409.9h0M149.9 377.9h0M81.8 409.8h0M159.5 377.7h0M119.7 401.6h0M102.2 406.3h0M162.7 348.4h0M101.1 408.1h0M76.9 410.9h0M75.0 409.9h0M156.5 370.5h0M100.0 408.4h0M145.4 379.0h0M85.7 411.2h0M164.8 374.5h0M157.5 364.3h0M126.6 396.0h0M78.9 409.5h0M116.2 399.7h0M103.6 409.3h0M100.7 406.1h0M142.6 377.3h0M156.4 363.6h0M94.0 409.4h0M151.2 378.6h0M134.7 394.6h0M148.2 382.0h0M86.1 409.7h0M80.8 409.5h0M89.0 409.5h0M72.2 411.7h0M156.2 369.6h0M77.5 409.8h0M132.0 389.6h0M136.0 385.5h0M158.7 361.4h0M144.5 381.8h0M167.2 373.6h0M154.5 365.0h0M110.4 404.4h0M149.7 377.4h0M116.4 399.2h0M89.9 408.5h0M119.6 398.1h0M113.0 406.4h0M124.9 394.9h0M109.0 407.8h0M170.9 354.6h0M162.9 352.2h0M83.8 409.9h0M137.5 393.2h0M123.8 397.1h0M72.1 410.9h0M146.4 380.2h0M120.3 402.1h0M80.6 410.5h0M166.6 350.5h0M173.0 364.0h0M94.0 408.6h0M116.7 404.7h0M94.0 409.6h0M131.9 395.1h0M86.5 409.3h0M145.2 387.6h0M135.4 384.3h0M126.3 401.0h0M82.8 411.9h0M76.9 409.4h0M116.8 403.4h0M111.5 403.1h0M95.8 408.4h0M145.4 381.9h0M131.3 385.6h0M149.1 385.9h0M109.4 403.2h0M159.4 354.7h0M120.8 398.1h0M174.6 351.7h0M159.1 368.1h0M141.2 375.3h0M145.8 386.8h0M151.0 368.4h0M167.8 361.7h0M171.9 355.6h0M149.5 367.9h0M157.3 373.5h0M147.9 361.7h0M148.9 357.1h0M146.0 382.8h0M141.6 377.4h0M154.9 357.1h0M173.0 363.8h0M159.2 371.8h0M141.4 366.3h0M153.4 381.0h0M165.3 357.2h0M172.1 377.8h0M141.9 383.1h0M158.5 348.8h0M153.2 375.5h0M152.5 388.1h0M164.8 377.3h0M164.5 370.8h0M151.7 363.8h0M164.5 360.1h0M144.6 375.5h0M176.1 369.0h0M147.4 366.4h0M158.4 378.5h0M146.4 362.1h0M141.9 371.9h0M155.9 379.7h0M160.7 367.4h0M142.1 367.3h0M171.3 363.9h0M152.5 364.1h0M147.1 372.9h0M155.1 370.1h0M137.6 374.9h0M149.2 377.6h0M153.1 376.7h0M173.0 367.2h0M152.9 349.3h0M139.8 374.4h0M146.8 375.7h0M149.0 389.9h0M158.8 385.8h0M141.1 371.7h0M157.1 372.7h0M165.6 361.1h0M147.8 389.3h0M155.6 376.5h0M158.1 358.5h0M155.6 359.4h0M156.7 347.7h0M149.6 352.0h0M160.8 366.1h0M146.9 371.9h0M160.0 358.8h0M146.6 377.9h0M177.3 366.2h0M162.1 368.8h0M163.0 352.0h0M158.2 359.9h0M153.7 389.3h0M152.7 361.0h0M159.6 371.0h0M141.4 366.1h0M144.3 374.9h0M160.0 366.9h0M150.1 364.3h0M161.2 379.3h0M173.2 358.4h0M170.1 356.2h0M170.0 377.3h0M140.6 368.8h0M177.2 364.9h0M154.7 375.3h0M151.8 357.5h0M166.1 376.3h0M144.6 386.5h0M173.9 358.4h0M161.9 378.9h0M146.3 374.4h0M154.2 367.7h0M147.9 384.3h0M171.7 366.2h0" stroke="#000" stroke-width="3.65" stroke-linecap="round" fill="none"/>
<rect x="266.66" y="226.1" width="195.33" height="21.80" fill="#D0D0D0"/>
<rect x="266.66" y="247.9" width="195.33" height="171.75" fill="#E5E5E5"/>
<text x="364.33" y="242.20" font-size="11.73" fill="#1A1A1A" text-anchor="middle">y</text>
<g><line x1="266.66" x2="461.99" y1="393.95" y2="393.95" stroke="#FFFFFF" stroke-width="0.85"/><line x1="266.66" x2="461.99" y1="351.45" y2="351.45" stroke="#FFFFFF" stroke-width="0.85"/><line x1="266.66" x2="461.99" y1="308.95" y2="308.95" stroke="#FFFFFF" stroke-width="0.85"/><line x1="266.66" x2="461.99" y1="266.45" y2="266.45" stroke="#FFFFFF" stroke-width="0.85"/><line x1="310.63" x2="310.63" y1="247.9" y2="419.65" stroke="#FFFFFF" stroke-width="0.85"/><line x1="377.49" x2="377.49" y1="247.9" y2="419.65" stroke="#FFFFFF" stroke-width="0.85"/><line x1="444.35" x2="444.35" y1="247.9" y2="419.65" stroke="#FFFFFF" stroke-width="0.85"/><line x1="266.66" x2="461.99" y1="415.20" y2="415.20" stroke="#FFFFFF" stroke-width="1.42"/><line x1="266.66" x2="461.99" y1="372.70" y2="372.70" stroke="#FFFFFF" stroke-width="1.42"/><line x1="266.66" x2="461.99" y1="330.20" y2="330.20" stroke="#FFFFFF" stroke-width="1.42"/><line x1="266.66" x2="461.99" y1="287.70" y2="287.70" stroke="#FFFFFF" stroke-width="1.42"/><line x1="277.20" x2="277.20" y1="247.9" y2="419.65" stroke="#FFFFFF" stroke-width="1.42"/><line x1="344.06" x2="344.06" y1="247.9" y2="419.65" stroke="#FFFFFF" stroke-width="1.42"/><line x1="410.92" x2="410.92" y1="247.9" y2="419.65" stroke="#FFFFFF" stroke-width="1.42"/></g>
<line x1="277.20" x2="277.20" y1="419.65" y2="423.32" stroke="#333333" stroke-width="1.42"/>
<text x="277.20" y="434.5" font-size="11.73" fill="#4D4D4D" text-anchor="middle">4</text>
<line x1="344.06" x2="344.06" y1="419.65" y2="423.32" stroke="#333333" stroke-width="1.42"/>
<text x="344.06" y="434.5" font-size="11.73" fill="#4D4D4D" text-anchor="middle">6</text>
<line x1="410.92" x2="410.92" y1="419.65" y2="423.32" stroke="#333333" stroke-width="1.42"/>
<text x="410.92" y="434.5" font-size="11.73" fill="#4D4D4D" text-anchor="middle">8</text>
<path clip-path="url(#c11)" d="M388.4 257.8h0M399.7 257.3h0M410.7 259.2h0M416.1 256.0h0M429.2 258.0h0M413.6 263.6h0M411.8 266.5h0M431.4 265.0h0M445.4 269.7h0M432.5 271.2h0M385.9 272.8h0M390.2 272.6h0M395.6 271.9h0M411.0 271.2h0M420.9 270.6h0M421.6 273.1h0M411.8 275.2h0M415.8 276.7h0M414.3 279.3h0M411.0 280.8h0M436.5 277.0h0M395.4 277.4h0M400.0 279.3h0M390.0 279.6h0M424.1 281.8h0M397.8 284.0h0M393.9 285.8h0M417.2 285.5h0M420.1 285.5h0M428.2 285.0h0M411.4 286.6h0M408.9 289.5h0M431.1 289.1h0M373.5 292.8h0M389.5 292.5h0M387.3 293.5h0M396.1 292.3h0M394.9 294.5h0M409.9 292.8h0M425.5 292.8h0M419.1 295.4h0M384.7 296.8h0M388.1 298.3h0M390.2 297.9h0M429.9 297.9h0M400.5 299.3h0M401.6 300.8h0M394.9 301.2h0M421.3 300.3h0M425.2 302.7h0M390.5 304.1h0M397.2 304.1h0M453.2 303.2h0M418.7 304.9h0M387.3 307.0h0M393.9 306.3h0M415.5 308.8h0M426.4 310.2h0M370.9 314.2h0M390.5 312.9h0M392.9 313.9h0M402.9 316.4h0M409.2 313.2h0M413.3 312.9h0M378.6 316.4h0M391.7 316.4h0M393.2 317.5h0M422.0 317.2h0M364.7 317.2h0M385.9 318.7h0M379.8 319.7h0M383.0 321.6h0M387.3 320.5h0M391.0 320.8h0M393.2 319.7h0M391.0 323.1h0M415.5 321.2h0M369.5 322.2h0M366.9 324.1h0M374.9 326.0h0M375.7 328.5h0M396.4 326.3h0M415.0 326.7h0M366.9 327.0h0M387.0 328.5h0M391.7 329.5h0M390.2 331.0h0M402.2 329.9h0M401.2 332.1h0M397.8 331.8h0M369.8 331.4h0M368.1 333.3h0M374.9 332.9h0M388.8 333.6h0M377.9 335.0h0M374.5 335.3h0M391.7 336.2h0M395.4 337.2h0M398.7 337.2h0M370.6 337.7h0M391.7 339.1h0M386.6 340.6h0M366.9 341.2h0M383.0 343.1h0M383.7 345.7h0M387.6 345.5h0M392.4 343.5h0M394.6 344.1h0M395.4 346.4h0M371.0 347.1h0M367.6 348.9h0M368.4 350.4h0M402.6 349.9h0M378.6 350.4h0M386.6 350.8h0M384.4 352.2h0M388.1 352.2h0M380.8 353.7h0M374.5 353.7h0M379.3 355.5h0M389.5 356.6h0M387.3 358.4h0M392.4 358.7h0M368.4 357.2h0M374.2 357.6h0M376.4 360.6h0M380.0 363.5h0M393.9 363.5h0M390.5 366.0h0M384.1 373.2h0M376.4 369.3h0M380.0 370.0h0M373.5 374.4h0M378.6 379.5h0M379.8 379.1h0M388.5 380.0h0M376.0 383.2h0M371.3 381.7h0M391.7 388.3h0M354.5 326.0h0M361.5 334.3h0M359.0 338.7h0M362.2 345.2h0M355.7 346.4h0M352.0 348.2h0M354.2 349.9h0M336.7 368.1h0M338.5 378.1h0M336.7 380.2h0M326.5 387.2h0M346.2 374.1h0M336.7 368.0h0M329.0 405.7h0M335.7 404.5h0M360.5 395.2h0M363.7 395.2h0M275.2 411.1h0M283.9 410.0h0M339.9 389.2h0M368.7 356.3h0M291.0 410.4h0M301.4 409.9h0M305.0 410.6h0M353.7 375.7h0M347.0 382.1h0M306.5 407.6h0M377.0 361.2h0M292.8 409.9h0M294.9 410.0h0M314.3 408.0h0M324.4 400.2h0M282.3 410.7h0M308.5 408.3h0M349.1 381.6h0M276.1 410.8h0M370.5 350.2h0M303.4 406.8h0M276.0 410.8h0M289.9 409.9h0M323.8 401.4h0M330.5 396.4h0M283.7 411.6h0M343.0 387.0h0M313.6 403.8h0M343.4 386.6h0M359.6 379.9h0M295.1 408.2h0M310.4 404.9h0M312.2 402.9h0M321.7 401.4h0M277.6 410.4h0M278.3 410.9h0M335.0 392.5h0M353.6 367.6h0M292.0 410.9h0M330.3 393.1h0M326.9 398.8h0M341.8 393.1h0M364.0 349.5h0M362.1 355.2h0M314.3 402.3h0M350.4 380.0h0M365.6 365.4h0M288.5 408.5h0M306.8 408.7h0M357.1 377.2h0M366.3 376.3h0M316.5 404.7h0M337.9 390.6h0M298.6 409.9h0M299.1 408.6h0M298.5 408.9h0M287.4 409.9h0M282.8 411.3h0M308.0 405.6h0M308.7 408.3h0M346.9 390.4h0M337.1 389.7h0M338.3 396.7h0M286.3 410.3h0M330.7 395.1h0M292.0 409.3h0M313.9 406.0h0M340.0 389.2h0M344.7 384.9h0M349.6 386.7h0M289.7 411.7h0M288.8 408.7h0M308.6 405.2h0M289.7 407.0h0M361.5 373.6h0M361.6 374.5h0M349.9 372.9h0M330.9 392.9h0M342.1 392.3h0M304.5 407.2h0M348.1 391.2h0M350.4 380.5h0M278.9 410.9h0M319.3 402.5h0M352.1 382.9h0M301.6 411.4h0M365.4 353.9h0M313.1 406.0h0M334.1 392.8h0M333.6 395.5h0M329.6 398.6h0M351.9 372.1h0M334.3 392.9h0M279.6 410.3h0M302.3 408.6h0M278.9 409.4h0M282.9 409.2h0M298.0 410.7h0M276.2 411.4h0M363.9 369.7h0M332.8 397.5h0M364.8 351.9h0M369.2 369.6h0M311.1 403.6h0M352.3 378.9h0M311.0 407.5h0M299.8 408.2h0M333.6 392.8h0M342.9 388.3h0M291.0 408.5h0M308.3 405.0h0M368.3 366.4h0M276.9 411.0h0M351.1 384.2h0M336.9 389.6h0M326.5 398.4h0M314.3 405.6h0M275.4 410.9h0M344.5 388.8h0M287.2 409.7h0M289.8 411.4h0M297.2 410.5h0M368.3 371.1h0M289.5 410.0h0M360.1 375.1h0M310.0 404.1h0M345.6 386.3h0M360.9 375.0h0M288.4 410.3h0M293.4 407.8h0M275.7 411.3h0M325.1 398.8h0M310.4 405.4h0M370.4 368.2h0M303.2 409.3h0M329.5 397.4h0M352.9 380.8h0M356.7 366.9h0M276.8 410.8h0M279.4 410.3h0M309.4 406.7h0M359.2 366.5h0M319.7 401.9h0M332.3 392.3h0M281.9 409.7h0M358.5 364.0h0M368.4 364.9h0M309.9 407.8h0M373.6 354.4h0M280.3 411.5h0M366.2 359.1h0M304.4 407.5h0M346.3 383.6h0M351.6 379.2h0M306.7 406.6h0M280.9 411.5h0M362.9 375.8h0M370.3 352.3h0M309.2 409.8h0M289.0 409.7h0M350.2 375.6h0M346.3 389.0h0M284.5 411.0h0M293.1 411.6h0M352.1 382.4h0M337.9 387.4h0M362.8 379.9h0M327.9 397.9h0M373.0 349.0h0M355.3 371.1h0M327.9 396.3h0M320.7 404.8h0M313.0 405.9h0M297.8 407.8h0M318.3 400.4h0M365.2 367.1h0M291.3 408.8h0M306.2 409.0h0M371.4 354.6h0M350.8 369.7h0M321.6 398.9h0M281.1 409.6h0M345.7 387.2h0M352.3 371.5h0M366.2 368.4h0M307.0 409.1h0M277.9 411.1h0M365.5 362.6h0M290.4 411.1h0M315.4 404.1h0M344.1 380.7h0M334.0 392.7h0M313.4 403.0h0M317.2 405.9h0M291.8 409.3h0M302.7 407.8h0M294.3 408.3h0M344.5 378.7h0M277.7 411.8h0M338.1 385.1h0M331.8 398.2h0M371.7 375.5h0M354.7 381.6h0M340.3 384.6h0M341.2 389.6h0M315.1 399.6h0M358.1 376.3h0M348.8 390.9h0M288.0 408.0h0M322.7 404.3h0M360.6 368.7h0M326.1 396.6h0M366.4 360.5h0M313.5 399.6h0M369.0 359.6h0M347.7 372.0h0M341.3 384.4h0M352.0 376.9h0M321.2 393.6h0M284.8 411.2h0M284.5 410.0h0M291.8 409.6h0M363.7 361.2h0M313.2 402.3h0M290.7 411.5h0M316.0 402.6h0M339.8 388.6h0M325.0 396.2h0M364.9 355.6h0M338.0 392.2h0M290.0 408.1h0M339.5 393.9h0M329.5 396.0h0M348.7 388.0h0M316.4 401.2h0M288.0 409.3h0M333.0 393.5h0M325.0 394.0h0M365.0 365.0h0M350.9 375.7h0M312.8 403.5h0M308.8 410.0h0M280.6 409.6h0M280.6 411.3h0M298.6 408.7h0M353.3 372.6h0M309.7 407.6h0M324.0 401.4h0M318.2 399.9h0M363.2 379.6h0M361.9 376.4h0M321.7 400.4h0M348.6 382.2h0M347.1 377.8h0M321.2 402.4h0M293.5 412.0h0M348.1 382.9h0M288.2 409.5h0M309.4 408.0h0M300.4 408.3h0M288.6 410.4h0M338.8 390.3h0M347.7 377.4h0M345.1 384.2h0M330.4 398.8h0M366.6 377.6h0M316.1 401.3h0M342.5 381.8h0M363.9 380.9h0M369.3 358.7h0M358.2 359.1h0M340.5 388.7h0M329.3 395.3h0M308.6 409.6h0M343.2 391.4h0M298.4 410.3h0M298.1 408.3h0M306.3 407.2h0M371.7 353.4h0M308.2 409.4h0M300.1 410.1h0M332.1 397.7h0M301.1 408.7h0M347.7 382.1h0M297.2 407.3h0M281.9 410.3h0M290.2 410.0h0M280.7 410.6h0M285.7 410.8h0M298.6 405.7h0M358.2 361.0h0M353.4 380.1h0M319.1 400.9h0M293.0 410.4h0M310.6 407.2h0M363.5 371.8h0M333.5 393.5h0M366.8 363.6h0M362.3 376.0h0M300.3 407.7h0M358.3 359.0h0M287.8 409.8h0M369.8 351.6h0M307.0 408.3h0M359.5 381.5h0M336.0 385.9h0M368.6 360.8h0M318.6 400.0h0M295.3 408.0h0M367.7 369.4h0M305.5 405.5h0M329.3 390.7h0M295.5 408.9h0M349.2 374.2h0M371.3 360.8h0M310.4 406.4h0M333.3 395.1h0M325.3 401.6h0M336.8 393.1h0M284.2 408.3h0M299.1 407.4h0M344.2 378.2h0M329.9 397.8h0M311.9 406.5h0M305.9 407.9h0M351.3 370.7h0M366.9 363.5h0M328.5 401.6h0M357.7 379.4h0M323.6 399.8h0M356.3 372.8h0M286.9 409.7h0M296.2 410.1h0M326.7 396.6h0M358.8 373.4h0M345.4 382.2h0M351.8 387.9h0M334.4 389.9h0M356.5 372.5h0M317.1 404.2h0M317.3 404.9h0M310.6 404.3h0M348.5 387.1h0M288.1 410.6h0M337.7 387.8h0M350.0 386.7h0M304.1 408.2h0M349.4 383.1h0M334.4 387.8h0M343.7 380.7h0M280.9 412.1h0M318.4 404.1h0M354.9 364.1h0M297.1 411.0h0M350.7 383.4h0M286.3 410.5h0M281.4 411.7h0M334.9 395.4h0M335.9 392.6h0M375.1 354.4h0M305.7 408.1h0M348.8 379.2h0M277.4 411.3h0M314.4 406.7h0M290.5 408.2h0M347.4 378.3h0M336.4 389.4h0M282.0 409.4h0M283.6 410.7h0M323.9 397.2h0M313.6 406.0h0M361.4 354.5h0M322.0 401.9h0M324.4 394.8h0M349.5 376.0h0M347.3 379.6h0M292.4 410.6h0M338.1 392.7h0M330.0 397.5h0M338.3 392.6h0M351.1 384.7h0M365.0 373.1h0M306.0 408.8h0M350.8 384.4h0M364.8 373.4h0M276.8 410.8h0M369.4 354.2h0M286.6 408.8h0M308.9 406.9h0M279.7 410.0h0M279.1 410.7h0M348.9 369.5h0M296.1 410.4h0M359.3 373.0h0M310.2 405.9h0M335.6 394.3h0M316.6 403.1h0M312.3 403.8h0M364.4 362.1h0M281.0 410.2h0M342.9 380.4h0M359.4 366.5h0M358.8 383.5h0M359.8 382.6h0M320.4 394.3h0M283.9 410.9h0M321.8 402.8h0M297.9 406.3h0M362.7 362.4h0M365.6 357.8h0M322.9 396.2h0M341.2 385.0h0M373.0 362.0h0M300.4 409.9h0M365.9 365.6h0M315.6 400.6h0M314.6 405.0h0M330.8 397.8h0M363.8 371.0h0M352.1 384.6h0M275.9 411.0h0M308.6 408.3h0M300.7 407.0h0M355.1 372.1h0M275.5 411.3h0M352.2 372.6h0M334.3 389.3h0M353.8 375.4h0M281.2 411.6h0M291.3 408.9h0M368.3 371.8h0M343.0 390.3h0M357.4 365.6h0M346.3 375.0h0M340.4 385.1h0M326.9 397.2h0M363.6 363.6h0M309.3 404.9h0M354.1 374.0h0M278.8 409.6h0M324.6 397.8h0M293.1 410.3h0M304.0 405.4h0M350.9 385.1h0M364.3 369.4h0M334.1 393.1h0M314.8 404.8h0M373.5 365.1h0M344.9 375.1h0M369.6 366.8h0M306.3 407.5h0M337.0 391.1h0M355.1 365.3h0M313.7 405.8h0M289.6 408.0h0M324.3 393.9h0M366.0 372.3h0M330.4 398.6h0M323.0 399.4h0M279.7 410.0h0M361.5 371.0h0M361.7 375.8h0M281.7 409.6h0M329.9 397.9h0M347.3 378.0h0M357.5 369.6h0M333.7 397.1h0M352.9 387.1h0M327.2 399.7h0M357.1 365.6h0M363.0 375.9h0M344.8 387.2h0M291.7 411.4h0M324.2 398.8h0M367.3 370.6h0M352.5 377.1h0M314.2 405.5h0M361.5 380.9h0M341.7 389.6h0M320.6 398.6h0M279.5 410.6h0M361.6 355.5h0M298.9 411.2h0M349.3 386.8h0M312.3 407.5h0M305.7 405.8h0M339.4 389.3h0M345.1 387.7h0M308.3 408.2h0M313.6 405.4h0M374.5 354.6h0M332.8 398.3h0M348.3 386.0h0M336.2 394.7h0M290.9 408.4h0M304.1 407.7h0M316.1 401.0h0M294.2 409.1h0M302.3 407.4h0M343.1 388.9h0M306.2 408.7h0M327.3 394.2h0M304.9 409.0h0M302.4 409.7h0M301.3 406.8h0M285.9 409.9h0M312.3 406.1h0M312.0 405.3h0M348.1 386.0h0M284.1 409.4h0M297.6 408.1h0M282.6 411.3h0M366.1 354.8h0M366.4 351.7h0M316.3 401.0h0M329.8 395.8h0M321.1 394.9h0M308.8 406.1h0M363.4 379.3h0M334.7 392.4h0M350.2 375.6h0M322.8 397.7h0M325.7 402.1h0M353.7 378.8h0M290.7 410.5h0M357.3 364.6h0M290.1 411.2h0M300.6 408.4h0M316.6 401.6h0M311.2 407.6h0M281.8 408.5h0M369.9 362.0h0M296.3 408.5h0M342.2 385.4h0M362.9 350.1h0M292.6 411.9h0M364.0 369.4h0M367.5 353.1h0M321.6 401.1h0M347.1 387.9h0M354.2 376.7h0M354.5 376.3h0M371.6 361.4h0M321.1 402.5h0M343.2 384.2h0M352.3 384.4h0M322.9 401.3h0M307.7 406.3h0M318.9 402.6h0M368.7 358.2h0M280.1 411.0h0M308.5 408.4h0M298.9 409.0h0M349.2 382.6h0M369.9 351.2h0M309.6 408.4h0M318.5 402.9h0M314.1 407.0h0M310.1 407.5h0M290.1 409.5h0M373.2 361.0h0M345.3 380.8h0M309.1 409.6h0M304.3 405.6h0M367.6 359.1h0M323.2 399.7h0M309.7 407.0h0M287.6 412.3h0M333.9 396.3h0M368.9 370.4h0M326.9 399.1h0M304.4 408.9h0M314.1 405.0h0M366.6 356.9h0M323.9 394.5h0M343.6 393.0h0M288.5 409.6h0M355.4 380.6h0M340.7 383.6h0M352.9 384.8h0M357.0 375.8h0M364.9 378.4h0M354.1 371.4h0M320.0 397.4h0M296.9 409.5h0M340.4 390.7h0M363.9 367.9h0M314.3 406.4h0M274.6 410.7h0M348.8 381.7h0M349.5 378.6h0M371.7 351.2h0M333.9 396.1h0M291.0 411.1h0M334.8 389.5h0M335.1 392.2h0M319.1 395.8h0M286.0 410.7h0M335.5 395.0h0M302.8 408.7h0M315.9 404.6h0M330.7 392.0h0M294.6 411.2h0M296.8 407.4h0M320.2 405.2h0M336.6 385.7h0M323.4 397.4h0M282.4 411.1h0M295.4 406.9h0M308.9 407.6h0M329.0 397.2h0M302.8 408.9h0M337.6 394.2h0M286.0 410.9h0M331.1 387.8h0M286.9 411.0h0M292.1 408.5h0M276.1 411.0h0M275.5 411.8h0M351.0 383.4h0M364.6 372.9h0M352.2 372.6h0M289.3 410.9h0M377.4 357.6h0M331.6 391.3h0M309.5 407.1h0M302.9 407.2h0M347.6 376.9h0M356.0 377.4h0M284.2 411.5h0M285.2 411.2h0M316.5 405.0h0M306.6 408.3h0M304.7 405.9h0M367.0 376.6h0M351.4 387.6h0M363.1 367.7h0M350.4 378.9h0M366.1 353.1h0M275.8 410.7h0M339.1 389.4h0M367.5 350.7h0M279.8 409.4h0M296.9 408.3h0M320.7 395.3h0M286.1 409.7h0M314.4 403.4h0M326.5 396.4h0M348.9 380.6h0M346.6 376.1h0M363.2 365.9h0M297.1 409.7h0M278.8 410.4h0M341.0 382.8h0M356.6 379.2h0M371.1 360.5h0M375.2 351.4h0M318.1 403.1h0M332.9 393.4h0M328.7 400.6h0M296.4 410.7h0M306.6 407.8h0M291.9 411.4h0M367.4 360.5h0M306.1 408.1h0M346.6 387.9h0M305.6 408.7h0M291.7 407.7h0M336.6 393.1h0M339.9 395.4h0M369.8 356.7h0M301.4 408.2h0M314.4 404.0h0M321.0 400.1h0M359.8 363.0h0M352.0 378.1h0M298.1 405.6h0M283.4 410.4h0M337.8 390.3h0M298.3 411.3h0M367.1 379.5h0M377.1 373.5h0M364.8 365.3h0M369.2 383.0h0M348.7 381.9h0M363.0 363.1h0M374.6 354.0h0M350.6 371.5h0M360.5 349.5h0M341.2 373.1h0M344.4 375.4h0M359.3 382.4h0M342.0 376.6h0M344.0 376.8h0M362.7 366.3h0M354.8 366.8h0M364.2 380.2h0M367.4 364.1h0M358.1 381.7h0M347.0 361.6h0M363.6 364.4h0M366.5 382.0h0M353.6 373.4h0M343.1 377.8h0M366.6 370.2h0M368.7 349.6h0M376.5 351.1h0M364.1 373.2h0M344.1 379.4h0M349.9 367.5h0M360.4 382.6h0M357.3 348.5h0M368.9 378.1h0M351.0 388.0h0M345.9 380.6h0M379.3 374.2h0M350.0 355.4h0M352.0 359.6h0M356.9 372.0h0M342.2 376.4h0M363.3 381.5h0M352.1 366.2h0M347.0 379.0h0M344.4 366.7h0M362.3 379.4h0M354.9 390.9h0M358.7 379.1h0M344.7 367.9h0M376.5 364.4h0M370.1 365.3h0M353.4 375.1h0M360.8 386.6h0M361.1 387.6h0M348.4 364.1h0M340.9 374.5h0M350.3 365.6h0M351.3 360.9h0M371.9 350.6h0M380.7 362.4h0M366.8 378.4h0M353.9 368.3h0M356.6 372.8h0M346.1 378.2h0M362.7 386.3h0M365.2 361.1h0M359.0 386.2h0M345.2 365.4h0M365.0 381.1h0M360.4 360.6h0M348.4 365.3h0M375.7 358.7h0M367.0 382.9h0M351.5 368.5h0M347.6 384.4h0M376.5 379.1h0M350.3 366.2h0M353.0 361.3h0M352.3 369.8h0M365.2 370.2h0M354.9 367.6h0M367.6 351.8h0M353.1 360.4h0M356.4 384.7h0M357.8 364.5h0M376.8 356.1h0M374.1 357.2h0M370.8 380.7h0M361.2 376.1h0M372.2 370.1h0M372.3 369.6h0" stroke="#000" stroke-width="3.65" stroke-linecap="round" fill="none"/>
<rect x="469.33" y="226.1" width="195.33" height="21.80" fill="#D0D0D0"/>
<rect x="469.33" y="247.9" width="195.33" height="171.75" fill="#E5E5E5"/>
<text x="566.99" y="242.20" font-size="11.73" fill="#1A1A1A" text-anchor="middle">z</text>
<g><line x1="469.33" x2="664.66" y1="393.95" y2="393.95" stroke="#FFFFFF" stroke-width="0.85"/><line x1="469.33" x2="664.66" y1="351.45" y2="351.45" stroke="#FFFFFF" stroke-width="0.85"/><line x1="469.33" x2="664.66" y1="308.95" y2="308.95" stroke="#FFFFFF" stroke-width="0.85"/><line x1="469.33" x2="664.66" y1="266.45" y2="266.45" stroke="#FFFFFF" stroke-width="0.85"/><line x1="485.62" x2="485.62" y1="247.9" y2="419.65" stroke="#FFFFFF" stroke-width="0.85"/><line x1="540.88" x2="540.88" y1="247.9" y2="419.65" stroke="#FFFFFF" stroke-width="0.85"/><line x1="596.12" x2="596.12" y1="247.9" y2="419.65" stroke="#FFFFFF" stroke-width="0.85"/><line x1="651.38" x2="651.38" y1="247.9" y2="419.65" stroke="#FFFFFF" stroke-width="0.85"/><line x1="469.33" x2="664.66" y1="415.20" y2="415.20" stroke="#FFFFFF" stroke-width="1.42"/><line x1="469.33" x2="664.66" y1="372.70" y2="372.70" stroke="#FFFFFF" stroke-width="1.42"/><line x1="469.33" x2="664.66" y1="330.20" y2="330.20" stroke="#FFFFFF" stroke-width="1.42"/><line x1="469.33" x2="664.66" y1="287.70" y2="287.70" stroke="#FFFFFF" stroke-width="1.42"/><line x1="513.25" x2="513.25" y1="247.9" y2="419.65" stroke="#FFFFFF" stroke-width="1.42"/><line x1="568.50" x2="568.50" y1="247.9" y2="419.65" stroke="#FFFFFF" stroke-width="1.42"/><line x1="623.75" x2="623.75" y1="247.9" y2="419.65" stroke="#FFFFFF" stroke-width="1.42"/></g>
<line x1="513.25" x2="513.25" y1="419.65" y2="423.32" stroke="#333333" stroke-width="1.42"/>
<text x="513.25" y="434.5" font-size="11.73" fill="#4D4D4D" text-anchor="middle">3</text>
<line x1="568.50" x2="568.50" y1="419.65" y2="423.32" stroke="#333333" stroke-width="1.42"/>
<text x="568.50" y="434.5" font-size="11.73" fill="#4D4D4D" text-anchor="middle">4</text>
<line x1="623.75" x2="623.75" y1="419.65" y2="423.32" stroke="#333333" stroke-width="1.42"/>
<text x="623.75" y="434.5" font-size="11.73" fill="#4D4D4D" text-anchor="middle">5</text>
<path clip-path="url(#c12)" d="M601.0 257.8h0M610.0 257.3h0M620.5 256.0h0M623.4 259.2h0M634.8 258.0h0M622.4 263.6h0M624.9 266.5h0M648.7 265.0h0M650.4 269.7h0M595.4 271.9h0M596.2 272.8h0M600.2 273.1h0M621.0 270.9h0M623.4 271.6h0M629.4 270.6h0M631.9 273.1h0M622.4 275.2h0M620.7 277.0h0M638.0 277.0h0M610.5 277.1h0M612.2 279.3h0M601.7 279.6h0M624.9 279.6h0M627.5 280.8h0M639.5 281.8h0M596.2 284.0h0M611.5 285.8h0M614.4 285.8h0M629.0 285.5h0M625.6 286.6h0M635.8 285.0h0M627.5 289.5h0M642.1 289.1h0M581.1 292.8h0M593.0 292.3h0M599.8 293.5h0M604.2 292.5h0M606.1 294.5h0M621.7 292.8h0M631.5 292.8h0M626.5 295.4h0M593.5 297.9h0M599.8 297.1h0M600.2 298.6h0M608.6 299.8h0M629.4 297.9h0M627.1 300.3h0M602.3 301.5h0M600.8 304.1h0M612.2 304.1h0M650.1 302.7h0M656.0 303.2h0M632.6 304.9h0M601.3 307.0h0M604.2 306.3h0M614.4 308.8h0M622.4 310.2h0M572.4 314.2h0M597.3 312.9h0M600.5 313.5h0M607.8 316.4h0M614.4 313.5h0M620.7 312.9h0M595.4 316.8h0M598.4 316.4h0M599.8 318.3h0M640.6 317.2h0M591.8 318.7h0M590.3 321.2h0M594.0 320.2h0M596.9 320.8h0M601.3 320.5h0M602.3 322.6h0M621.0 320.9h0M582.0 322.2h0M574.3 323.7h0M569.6 325.6h0M580.1 326.0h0M574.0 327.5h0M607.5 326.0h0M600.8 326.6h0M616.9 326.6h0M585.2 328.9h0M580.9 330.7h0M594.7 330.4h0M599.4 329.2h0M604.6 329.5h0M603.5 331.8h0M612.9 329.5h0M610.8 331.0h0M621.2 332.1h0M575.5 332.4h0M567.7 334.3h0M618.8 335.0h0M597.6 333.6h0M600.5 334.8h0M577.9 336.2h0M584.5 335.8h0M587.4 337.2h0M595.4 336.2h0M602.0 336.5h0M609.6 337.2h0M569.2 339.4h0M596.9 339.4h0M600.8 340.9h0M593.2 343.1h0M592.5 345.2h0M596.9 345.5h0M601.7 345.2h0M615.6 344.1h0M574.0 344.5h0M587.4 346.0h0M583.0 347.4h0M575.8 349.6h0M588.9 350.4h0M591.8 350.4h0M611.2 349.9h0M597.6 351.4h0M600.8 351.8h0M603.8 352.2h0M607.1 353.3h0M593.2 354.3h0M584.8 353.7h0M577.9 354.0h0M607.5 356.2h0M599.8 358.1h0M601.7 358.4h0M587.1 359.1h0M588.6 363.5h0M593.0 366.0h0M596.9 370.3h0M586.0 369.3h0M586.7 373.7h0M586.0 375.9h0M593.2 380.0h0M586.7 380.0h0M579.4 384.6h0M584.2 388.3h0M566.4 345.2h0M551.4 348.2h0M559.1 351.8h0M564.5 353.7h0M541.9 368.1h0M546.3 378.1h0M542.2 380.2h0M536.4 386.1h0M533.2 387.5h0M530.2 388.7h0M554.3 375.1h0M541.9 368.0h0M546.3 377.7h0M536.4 386.0h0M541.2 406.0h0M552.4 405.4h0M556.1 400.3h0M565.2 404.5h0M557.2 394.7h0M564.5 398.4h0M561.6 394.0h0M552.4 397.2h0M575.0 389.9h0M569.6 395.2h0M516.7 403.6h0M548.0 389.8h0M563.8 379.1h0M497.3 407.9h0M483.1 410.5h0M497.4 407.9h0M489.1 411.5h0M506.7 406.2h0M563.5 371.1h0M544.7 386.3h0M529.1 398.4h0M560.8 366.1h0M482.6 411.9h0M545.2 394.2h0M537.4 399.1h0M528.8 397.9h0M571.5 359.1h0M574.4 367.2h0M552.1 379.1h0M496.4 406.4h0M492.7 408.8h0M577.0 350.2h0M572.2 354.3h0M573.1 365.0h0M554.2 379.3h0M514.5 408.0h0M499.3 409.5h0M506.2 407.3h0M504.4 406.7h0M523.1 402.3h0M482.2 411.6h0M553.7 386.4h0M498.7 408.5h0M496.8 407.1h0M500.3 409.5h0M495.4 409.5h0M537.6 389.7h0M558.9 383.2h0M487.0 409.8h0M549.5 389.4h0M511.3 406.0h0M488.9 410.3h0M574.3 379.7h0M553.5 392.9h0M562.7 364.7h0M527.0 400.4h0M547.8 388.7h0M507.8 407.7h0M544.8 391.3h0M489.1 410.5h0M538.2 391.3h0M575.7 367.5h0M478.1 410.8h0M517.2 405.6h0M552.9 389.2h0M490.0 411.4h0M569.7 381.7h0M571.9 357.1h0M482.0 410.3h0M571.0 361.5h0M516.2 407.4h0M527.8 394.6h0M502.5 406.2h0M497.9 408.0h0M564.4 376.3h0M492.7 407.6h0M541.7 395.0h0M575.3 351.9h0M569.5 354.8h0M501.9 406.4h0M512.4 404.3h0M490.8 408.6h0M577.2 375.4h0M509.6 404.9h0M515.4 405.9h0M559.2 385.4h0M522.3 397.2h0M498.9 406.5h0M521.3 402.7h0M564.0 370.8h0M509.1 406.1h0M478.9 411.4h0M527.0 397.4h0M546.8 391.1h0M526.7 393.6h0M550.3 389.9h0M511.5 404.0h0M500.4 406.7h0M519.7 402.4h0M560.2 385.9h0M517.1 401.4h0M548.0 387.9h0M571.7 360.2h0M499.2 405.1h0M490.4 410.0h0M514.1 404.9h0M503.9 404.2h0M541.3 391.3h0M483.8 410.6h0M550.0 390.3h0M554.1 385.6h0M523.9 394.1h0M545.0 393.3h0M529.4 395.1h0M578.6 360.2h0M565.1 379.4h0M529.6 401.2h0M566.5 368.5h0M532.0 398.2h0M549.6 387.5h0M557.4 388.5h0M568.9 381.4h0M520.7 404.3h0M578.5 350.1h0M535.0 396.9h0M575.7 364.6h0M545.1 387.2h0M535.1 392.6h0M478.8 411.2h0M550.9 386.4h0M486.7 408.6h0M508.5 406.8h0M491.5 410.1h0M534.2 393.7h0M561.2 385.0h0M477.4 411.2h0M526.6 395.2h0M498.2 408.8h0M548.1 386.7h0M550.0 384.4h0M524.9 401.8h0M520.0 400.7h0M563.0 384.1h0M555.8 381.0h0M511.6 404.2h0M549.0 381.7h0M508.0 404.4h0M517.5 401.0h0M478.4 411.2h0M520.0 404.8h0M578.2 371.7h0M517.2 404.1h0M553.5 387.4h0M551.3 383.8h0M490.1 410.9h0M517.6 404.4h0M558.1 380.1h0M487.0 409.6h0M516.4 403.5h0M563.0 362.4h0M539.8 392.4h0M560.6 371.6h0M513.5 404.7h0M509.1 407.1h0M553.9 384.9h0M519.8 401.3h0M487.4 408.9h0M561.2 383.4h0M528.7 400.4h0M497.8 409.7h0M504.8 409.8h0M549.6 386.5h0M561.4 364.9h0M517.4 405.6h0M486.5 408.6h0M515.4 404.3h0M490.9 408.2h0M499.4 409.0h0M573.4 354.5h0M492.4 409.2h0M581.6 358.0h0M481.3 410.6h0M537.9 395.4h0M494.4 408.2h0M495.9 407.1h0M528.5 399.6h0M498.9 408.0h0M546.7 390.4h0M563.3 374.6h0M503.6 407.6h0M522.8 400.0h0M573.9 349.5h0M514.4 403.3h0M515.7 401.6h0M574.6 372.7h0M521.5 396.2h0M484.5 411.0h0M553.5 383.6h0M573.5 352.3h0M560.4 375.5h0M529.7 396.0h0M479.5 410.9h0M517.6 400.0h0M555.3 371.1h0M531.2 393.3h0M533.9 395.0h0M552.9 385.9h0M498.1 409.1h0M505.1 406.3h0M566.4 367.7h0M486.6 410.8h0M540.0 398.2h0M488.9 409.9h0M500.8 408.6h0M523.0 400.1h0M522.5 396.0h0M507.7 408.4h0M542.7 391.9h0M508.0 406.0h0M521.1 399.0h0M523.1 398.6h0M532.9 399.5h0M540.2 396.1h0M570.1 369.2h0M557.6 382.5h0M514.8 400.8h0M490.4 410.6h0M483.7 410.1h0M496.5 408.4h0M499.2 407.2h0M539.7 389.0h0M568.3 377.5h0M551.3 391.6h0M503.6 406.2h0M516.1 406.6h0M503.9 407.4h0M543.7 394.8h0M556.6 381.3h0M566.4 375.0h0M487.0 411.5h0M503.4 409.3h0M512.7 406.3h0M523.0 403.5h0M503.0 406.9h0M570.6 347.9h0M526.8 401.3h0M559.8 368.6h0M558.1 374.5h0M543.1 387.9h0M508.8 405.6h0M571.5 349.6h0M508.8 404.9h0M506.7 407.5h0M548.3 389.9h0M511.7 406.1h0M558.5 383.4h0M526.0 394.1h0M558.5 387.3h0M571.9 349.9h0M503.6 406.5h0M508.1 407.7h0M484.3 409.2h0M552.9 383.1h0M565.5 358.4h0M522.4 400.8h0M535.8 395.6h0M571.2 362.1h0M564.3 374.9h0M542.6 390.7h0M492.0 410.0h0M569.0 352.2h0M509.8 406.8h0M536.8 393.4h0M514.3 402.1h0M520.8 403.9h0M559.3 381.1h0M489.2 410.0h0M513.7 403.4h0M525.5 397.5h0M578.2 361.3h0M516.8 402.0h0M547.7 389.4h0M482.7 412.1h0M544.0 391.0h0M535.2 398.2h0M505.2 407.2h0M491.9 407.6h0M573.1 357.8h0M558.4 359.6h0M551.0 392.5h0M554.4 385.6h0M485.3 409.7h0M534.2 395.0h0M561.0 377.5h0M560.8 382.9h0M536.6 390.2h0M477.5 411.1h0M563.4 373.0h0M514.0 402.9h0M532.4 395.7h0M561.0 375.0h0M565.3 362.5h0M481.1 411.0h0M509.1 404.7h0M562.9 378.4h0M507.7 408.0h0M537.0 395.0h0M501.3 406.7h0M490.3 408.4h0M509.8 406.2h0M478.6 410.9h0M522.3 401.7h0M541.4 391.0h0M486.0 410.4h0M554.0 387.4h0M568.7 364.5h0M548.3 389.6h0M505.3 409.1h0M558.0 383.6h0M549.2 385.9h0M562.2 369.0h0M575.2 352.8h0M486.7 410.9h0M571.8 365.5h0M497.8 409.8h0M517.2 405.5h0M554.8 382.9h0M579.4 351.6h0M517.0 405.6h0M480.4 410.8h0M558.8 370.4h0M515.6 404.6h0M486.5 409.0h0M536.1 393.1h0M543.4 390.1h0M501.3 407.5h0M571.7 364.9h0M516.8 405.2h0M545.7 389.1h0M546.1 387.5h0M575.7 367.9h0M570.6 363.3h0M539.5 397.1h0M477.9 411.9h0M537.3 388.7h0M506.7 407.3h0M566.0 380.9h0M535.2 395.3h0M487.5 408.6h0M482.1 410.4h0M559.0 363.9h0M527.8 397.8h0M501.2 409.7h0M528.0 396.1h0M510.8 405.9h0M524.3 403.2h0M562.5 365.7h0M504.9 409.1h0M480.5 410.6h0M509.2 404.8h0M500.2 408.3h0M549.1 381.4h0M566.7 368.9h0M535.6 392.0h0M534.2 395.2h0M542.3 392.4h0M569.2 359.8h0M568.1 369.1h0M545.6 394.8h0M493.0 411.1h0M574.3 380.8h0M489.8 408.1h0M553.6 376.8h0M570.3 356.6h0M577.7 365.1h0M495.2 408.6h0M490.5 408.8h0M553.6 387.9h0M549.3 387.3h0M553.3 385.1h0M565.8 370.1h0M490.4 409.4h0M507.0 407.5h0M508.6 404.0h0M554.6 379.1h0M568.9 377.9h0M533.5 390.5h0M519.3 401.2h0M526.7 400.6h0M518.3 397.7h0M501.6 405.4h0M479.6 410.1h0M556.4 387.9h0M514.2 404.4h0M556.8 374.9h0M569.0 355.8h0M561.3 374.0h0M495.2 407.8h0M489.3 408.8h0M560.5 378.5h0M521.8 401.6h0M511.3 408.2h0M490.1 409.1h0M542.6 392.6h0M575.6 363.8h0M484.5 411.5h0M509.6 407.2h0M572.3 365.7h0M523.7 401.7h0M497.6 409.6h0M535.9 395.3h0M524.9 396.9h0M542.1 388.9h0M520.2 399.4h0M561.5 384.6h0M562.1 376.2h0M481.6 411.1h0M501.2 407.1h0M517.9 405.8h0M573.2 368.8h0M554.5 386.8h0M498.6 407.4h0M549.4 388.4h0M512.5 402.3h0M569.1 379.3h0M527.5 400.0h0M546.0 386.6h0M485.6 412.3h0M561.9 374.3h0M494.4 409.3h0M549.2 388.3h0M560.1 376.8h0M498.3 407.6h0M525.1 398.5h0M576.9 358.9h0M523.7 399.2h0M555.2 381.8h0M559.2 366.0h0M482.9 411.3h0M512.4 404.9h0M547.1 390.2h0M525.9 394.9h0M548.1 388.1h0M484.6 408.8h0M493.5 411.3h0M520.8 401.9h0M507.6 408.0h0M540.7 388.2h0M523.8 402.6h0M477.6 411.1h0M567.3 365.6h0M481.7 411.5h0M497.6 408.7h0M556.9 390.5h0M491.6 410.1h0M522.3 400.3h0M524.3 393.3h0M478.6 410.8h0M532.3 399.5h0M535.6 396.8h0M493.9 409.7h0M581.5 373.5h0M562.3 367.4h0M481.5 411.6h0M521.1 401.3h0M553.1 382.0h0M531.7 393.4h0M483.0 410.7h0M497.6 409.2h0M535.5 395.0h0M513.6 402.6h0M536.9 389.9h0M565.4 363.7h0M504.7 406.0h0M501.4 406.5h0M545.9 387.8h0M550.8 384.4h0M495.6 408.8h0M572.1 375.5h0M537.6 392.1h0M568.0 364.8h0M572.4 357.6h0M490.1 410.1h0M535.6 396.2h0M550.7 385.1h0M565.1 371.2h0M500.3 406.4h0M577.2 368.6h0M499.4 408.6h0M521.0 400.9h0M494.7 410.3h0M554.6 388.3h0M555.5 384.8h0M487.5 409.0h0M565.0 368.9h0M493.3 408.3h0M485.0 409.1h0M527.7 397.7h0M504.5 406.8h0M535.8 397.2h0M554.0 384.1h0M500.7 408.9h0M565.4 378.2h0M513.8 402.6h0M510.3 406.8h0M494.5 407.1h0M522.9 402.7h0M553.0 389.9h0M567.0 357.0h0M540.9 397.9h0M499.9 407.9h0M563.9 367.7h0M501.6 408.1h0M501.7 408.7h0M557.4 378.8h0M571.4 372.0h0M521.2 396.2h0M574.3 351.7h0M510.4 408.1h0M483.3 410.6h0M564.9 376.2h0M491.2 408.0h0M486.1 409.7h0M555.2 378.9h0M565.8 364.5h0M568.9 361.4h0M532.4 395.7h0M485.8 410.6h0M583.8 356.5h0M501.9 409.5h0M527.4 394.9h0M546.5 392.7h0M480.7 411.1h0M533.3 399.3h0M559.9 381.8h0M573.5 356.7h0M547.8 382.8h0M512.7 404.7h0M541.2 392.2h0M512.8 406.7h0M574.5 366.6h0M539.4 390.8h0M480.3 411.7h0M502.2 408.0h0M514.6 406.8h0M506.7 404.8h0M496.7 408.9h0M557.1 380.5h0M546.2 387.5h0M552.6 386.5h0M512.8 405.2h0M485.9 410.1h0M527.6 398.9h0M538.9 395.5h0M507.4 406.6h0M479.8 410.1h0M492.3 410.9h0M527.1 393.5h0M509.0 406.6h0M559.3 384.1h0M529.5 397.7h0M568.0 359.4h0M490.6 411.4h0M557.9 380.8h0M552.8 386.9h0M527.7 396.8h0M513.1 404.4h0M483.6 411.8h0M542.8 392.9h0M487.9 411.0h0M544.5 394.6h0M496.5 410.4h0M565.8 371.9h0M569.0 374.3h0M490.7 410.3h0M493.3 409.6h0M526.8 402.7h0M534.9 392.7h0M521.8 399.4h0M553.8 379.6h0M493.9 408.7h0M571.2 366.6h0M510.7 402.5h0M546.2 391.6h0M505.3 407.2h0M526.0 394.8h0M564.8 368.9h0M554.9 386.8h0M566.3 373.5h0M484.4 410.0h0M524.1 399.6h0M537.3 391.9h0M546.0 392.4h0M479.6 410.4h0M498.5 407.2h0M523.0 396.2h0M505.9 407.9h0M494.7 407.5h0M525.1 402.8h0M557.6 380.8h0M560.0 376.8h0M519.2 398.8h0M531.0 393.6h0M526.0 396.8h0M526.9 393.1h0M532.9 392.0h0M540.6 393.1h0M526.8 394.3h0M497.9 406.9h0M490.4 409.6h0M561.3 369.1h0M498.7 408.2h0M519.2 400.4h0M519.3 402.1h0M479.8 411.3h0M507.6 408.1h0M487.8 411.5h0M514.5 401.2h0M564.9 374.4h0M547.1 386.7h0M511.2 405.6h0M565.7 377.3h0M511.4 406.6h0M513.6 405.5h0M552.8 390.7h0M502.8 405.6h0M569.0 362.4h0M558.9 381.4h0M563.5 376.4h0M567.3 367.7h0M542.6 395.9h0M549.9 380.6h0M527.6 402.0h0M566.7 371.2h0M565.3 372.1h0M512.3 402.7h0M544.7 389.2h0M479.5 411.5h0M561.9 383.6h0M579.0 367.8h0M566.7 361.1h0M482.8 410.8h0M523.0 396.5h0M567.4 379.2h0M546.8 391.3h0M560.0 383.4h0M528.9 391.9h0M546.7 387.6h0M502.2 408.5h0M480.2 411.3h0M544.4 384.5h0M557.1 364.6h0M546.0 384.4h0M480.5 410.4h0M568.1 361.8h0M487.8 411.1h0M568.2 371.2h0M574.5 351.4h0M528.7 400.9h0M497.9 408.5h0M574.6 357.1h0M539.5 390.3h0M530.4 397.5h0M491.1 407.4h0M554.1 383.3h0M545.0 391.3h0M566.4 363.1h0M480.9 410.0h0M502.8 407.7h0M560.5 356.8h0M506.6 404.4h0M491.5 406.9h0M500.7 405.7h0M492.6 407.2h0M529.3 396.9h0M507.3 406.5h0M567.4 359.2h0M570.9 370.3h0M570.0 357.0h0M577.0 348.1h0M578.3 364.2h0M549.3 393.0h0M521.8 402.1h0M567.1 375.6h0M543.0 391.8h0M570.3 360.2h0M482.3 411.2h0M557.7 364.4h0M516.9 401.2h0M508.5 405.0h0M550.1 376.7h0M570.1 361.6h0M552.9 381.8h0M565.4 368.4h0M569.7 355.0h0M574.9 377.6h0M562.7 368.4h0M563.5 386.9h0M559.9 353.9h0M574.2 373.5h0M580.6 379.4h0M557.3 361.4h0M572.5 369.5h0M563.5 390.4h0M560.0 387.5h0M586.7 376.3h0M546.9 380.0h0M550.0 375.2h0M550.6 363.1h0M581.1 353.4h0M568.9 353.4h0M575.7 373.1h0M580.4 360.5h0M556.1 379.1h0M568.2 374.3h0M553.4 372.4h0M588.7 359.1h0M565.2 351.6h0M557.1 367.8h0M552.9 387.1h0M580.8 377.1h0M554.8 364.2h0M554.5 389.9h0M562.4 372.1h0M554.8 374.1h0M557.6 363.2h0M557.2 371.0h0M549.8 376.9h0M575.6 367.5h0M569.3 365.6h0M575.3 355.6h0M568.3 370.1h0M560.4 383.0h0M553.5 365.5h0M585.9 369.0h0M580.5 350.5h0M559.9 377.0h0M555.4 373.4h0M565.5 362.6h0M563.8 361.0h0M558.7 374.6h0M561.7 378.0h0M562.1 386.4h0M559.5 382.2h0M573.0 358.6h0M559.7 390.4h0M574.0 381.2h0M557.2 359.6h0M559.0 377.1h0M555.1 360.6h0M561.4 363.7h0M559.3 385.3h0M563.7 365.2h0M565.7 387.0h0M551.2 377.8h0M560.4 383.0h0M577.3 355.6h0M554.4 360.7h0M560.5 383.8h0M561.6 362.2h0M565.0 360.0h0M569.7 384.3h0M557.7 363.7h0M556.7 353.6h0M553.6 387.4h0M553.7 383.8h0M570.8 377.1h0M572.4 379.5h0M550.4 372.7h0M553.4 365.8h0M575.6 369.4h0M589.2 358.9h0M565.2 357.2h0M549.4 375.4h0M551.1 379.9h0M555.8 374.8h0M558.6 367.6h0M555.8 369.5h0M556.3 372.8h0M573.4 384.5h0M562.6 317.2h0" stroke="#000" stroke-width="3.65" stroke-linecap="round" fill="none"/>
<line x1="60.33" x2="64" y1="415.20" y2="415.20" stroke="#333333" stroke-width="1.42"/>
<text x="57" y="419.90" font-size="11.73" fill="#4D4D4D" text-anchor="end">0</text>
<line x1="60.33" x2="64" y1="372.70" y2="372.70" stroke="#333333" stroke-width="1.42"/>
<text x="57" y="377.40" font-size="11.73" fill="#4D4D4D" text-anchor="end">5000</text>
<line x1="60.33" x2="64" y1="330.20" y2="330.20" stroke="#333333" stroke-width="1.42"/>
<text x="57" y="334.90" font-size="11.73" fill="#4D4D4D" text-anchor="end">10000</text>
<line x1="60.33" x2="64" y1="287.70" y2="287.70" stroke="#333333" stroke-width="1.42"/>
<text x="57" y="292.40" font-size="11.73" fill="#4D4D4D" text-anchor="end">15000</text>
<text x="364.3" y="451.8" font-size="14.67" fill="#000" text-anchor="middle">value</text>
<text transform="translate(18.2 224.8) rotate(-90)" font-size="14.67" fill="#000" text-anchor="middle">price</text>
</svg>
</body></html>
